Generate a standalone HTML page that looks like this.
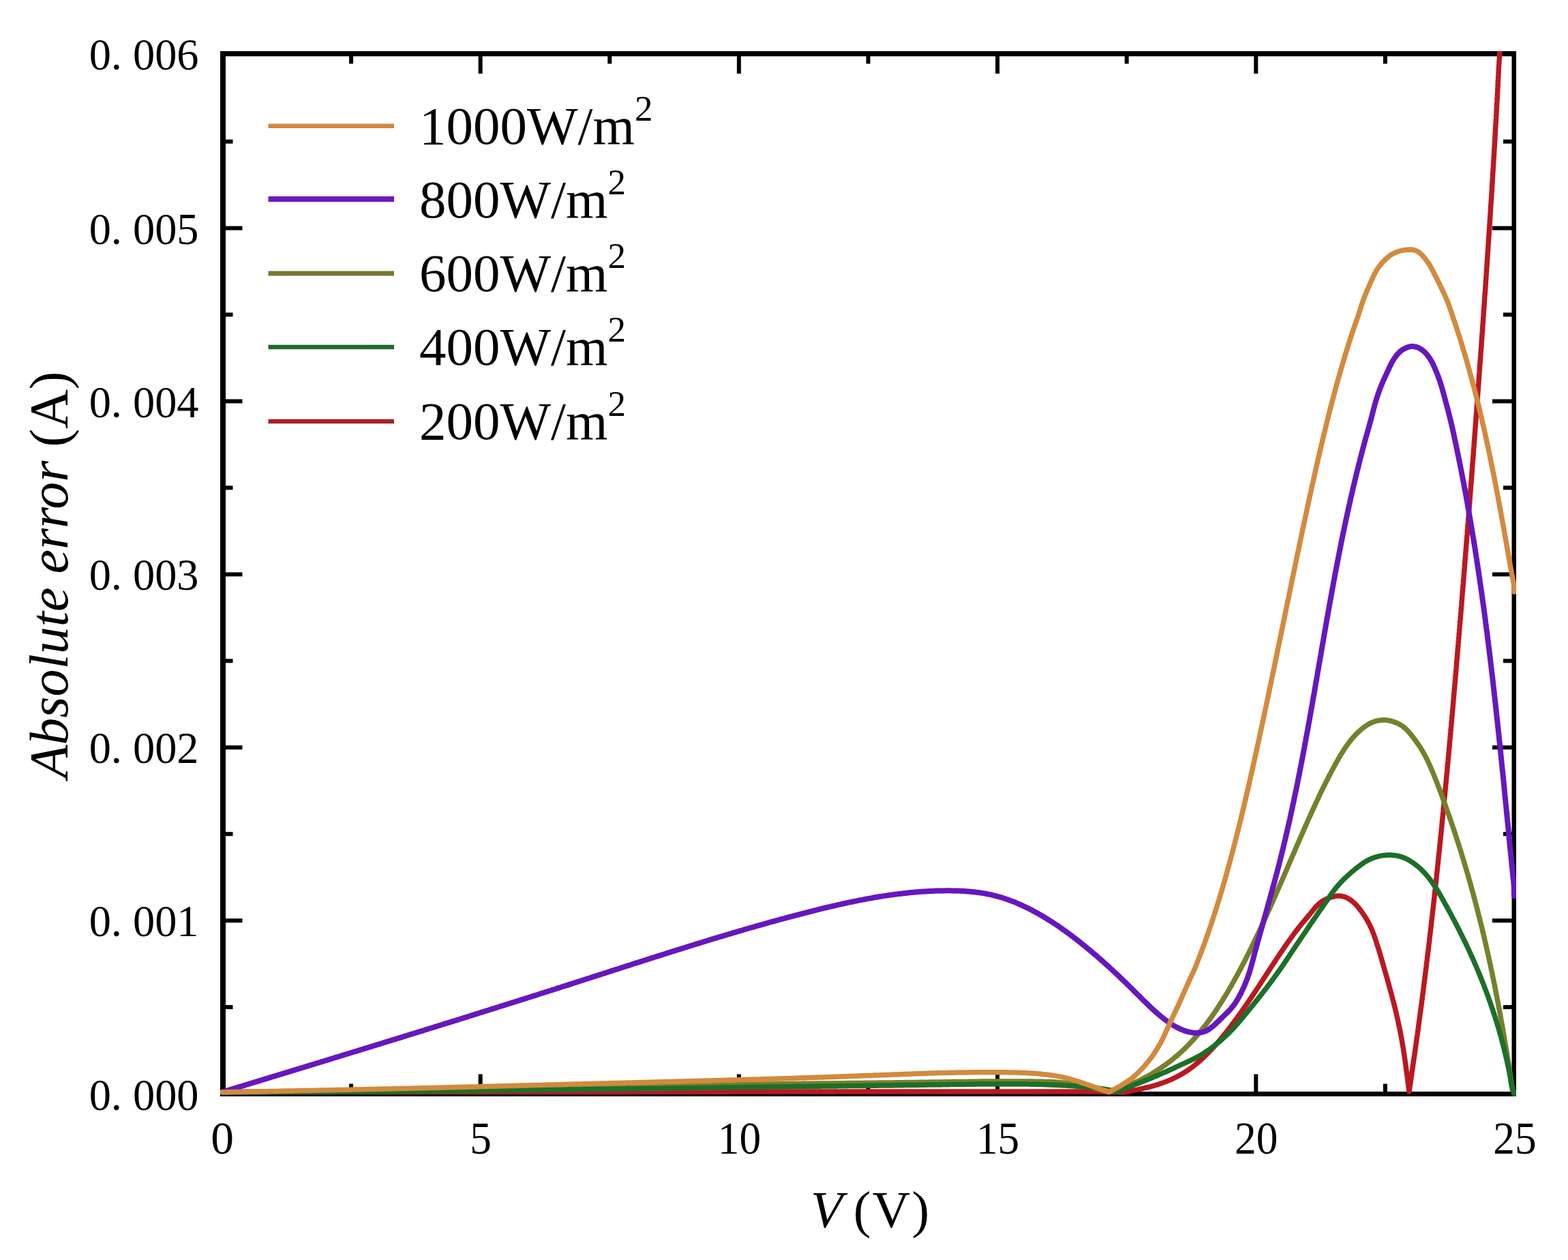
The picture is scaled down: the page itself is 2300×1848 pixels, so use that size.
<!DOCTYPE html>
<html><head><meta charset="utf-8"><title>Absolute error vs V</title>
<style>
html,body{margin:0;padding:0;background:#fff;}
svg{display:block;}
text{font-family:"Liberation Serif","Times New Roman",serif;fill:#000;}
.tk{font-size:66px;}
.xt{font-size:67.5px;}
.lg{font-size:79px;}
.sup{font-size:53px;}
.ax{font-size:77px;}
.ay{font-size:80px;}
</style></head>
<body>
<svg width="2300" height="1848" viewBox="0 0 2300 1848" xmlns="http://www.w3.org/2000/svg">
<rect x="0" y="0" width="2300" height="1848" fill="#fff"/>
<defs><clipPath id="pc"><rect x="323" y="75" width="1901" height="1533"/></clipPath></defs>
<g id="frame" fill="#000">
<rect x="323" y="75" width="8" height="1533"/>
<rect x="323" y="75" width="1901" height="7.5"/>
<rect x="2217.5" y="75" width="6.5" height="1533"/>
<rect x="323" y="1601" width="1901" height="7"/>
<rect x="331.0" y="1474.1" width="10.5" height="6.0"/>
<rect x="2205.0" y="1474.1" width="13.0" height="6.0"/>
<rect x="331.0" y="1347.2" width="24.5" height="6.0"/>
<rect x="2189.0" y="1347.2" width="29.0" height="6.0"/>
<rect x="331.0" y="1220.2" width="10.5" height="6.0"/>
<rect x="2205.0" y="1220.2" width="13.0" height="6.0"/>
<rect x="331.0" y="1093.3" width="24.5" height="6.0"/>
<rect x="2189.0" y="1093.3" width="29.0" height="6.0"/>
<rect x="331.0" y="966.3" width="10.5" height="6.0"/>
<rect x="2205.0" y="966.3" width="13.0" height="6.0"/>
<rect x="331.0" y="839.4" width="24.5" height="6.0"/>
<rect x="2189.0" y="839.4" width="29.0" height="6.0"/>
<rect x="331.0" y="712.4" width="10.5" height="6.0"/>
<rect x="2205.0" y="712.4" width="13.0" height="6.0"/>
<rect x="331.0" y="585.5" width="24.5" height="6.0"/>
<rect x="2189.0" y="585.5" width="29.0" height="6.0"/>
<rect x="331.0" y="458.5" width="10.5" height="6.0"/>
<rect x="2205.0" y="458.5" width="13.0" height="6.0"/>
<rect x="331.0" y="331.6" width="24.5" height="6.0"/>
<rect x="2189.0" y="331.6" width="29.0" height="6.0"/>
<rect x="331.0" y="204.6" width="10.5" height="6.0"/>
<rect x="2205.0" y="204.6" width="13.0" height="6.0"/>
<rect x="512.1" y="82.0" width="6.0" height="11.5"/>
<rect x="512.1" y="1589.6" width="6.0" height="12.0"/>
<rect x="701.7" y="82.0" width="6.0" height="26.0"/>
<rect x="701.7" y="1575.5" width="6.0" height="26.0"/>
<rect x="891.3" y="82.0" width="6.0" height="11.5"/>
<rect x="891.3" y="1589.6" width="6.0" height="12.0"/>
<rect x="1080.9" y="82.0" width="6.0" height="26.0"/>
<rect x="1080.9" y="1575.5" width="6.0" height="26.0"/>
<rect x="1270.5" y="82.0" width="6.0" height="11.5"/>
<rect x="1270.5" y="1589.6" width="6.0" height="12.0"/>
<rect x="1460.1" y="82.0" width="6.0" height="26.0"/>
<rect x="1460.1" y="1575.5" width="6.0" height="26.0"/>
<rect x="1649.7" y="82.0" width="6.0" height="11.5"/>
<rect x="1649.7" y="1589.6" width="6.0" height="12.0"/>
<rect x="1839.3" y="82.0" width="6.0" height="26.0"/>
<rect x="1839.3" y="1575.5" width="6.0" height="26.0"/>
<rect x="2028.9" y="82.0" width="6.0" height="11.5"/>
<rect x="2028.9" y="1589.6" width="6.0" height="12.0"/>
</g>
<g id="curves" clip-path="url(#pc)">
<path d="M326.0,1601.5 329.0,1601.5 332.0,1601.5 335.0,1601.5 338.0,1601.5 341.0,1601.5 344.0,1601.5 347.0,1601.5 350.0,1601.5 353.0,1601.5 356.0,1601.5 359.0,1601.5 362.0,1601.5 365.0,1601.5 368.0,1601.5 371.0,1601.5 374.0,1601.5 377.0,1601.5 380.0,1601.5 383.0,1601.5 386.0,1601.5 389.0,1601.5 392.0,1601.5 395.0,1601.5 398.0,1601.5 401.0,1601.5 404.0,1601.5 407.0,1601.5 410.0,1601.5 413.0,1601.5 416.0,1601.5 419.0,1601.5 422.0,1601.5 425.0,1601.5 428.0,1601.5 431.0,1601.5 434.0,1601.5 437.0,1601.5 440.0,1601.5 443.0,1601.5 446.0,1601.5 449.0,1601.5 452.0,1601.5 455.0,1601.5 458.0,1601.5 461.0,1601.5 464.0,1601.5 467.0,1601.5 470.0,1601.5 473.0,1601.5 476.0,1601.5 479.0,1601.5 482.0,1601.5 485.0,1601.5 488.0,1601.5 491.0,1601.5 494.0,1601.5 497.0,1601.5 500.0,1601.5 503.0,1601.5 506.0,1601.5 509.0,1601.5 512.0,1601.5 515.0,1601.5 518.0,1601.5 521.0,1601.5 524.0,1601.5 527.0,1601.5 530.0,1601.5 533.0,1601.5 536.0,1601.5 539.0,1601.5 542.0,1601.5 545.0,1601.5 548.0,1601.5 551.0,1601.5 554.0,1601.5 557.0,1601.5 560.0,1601.5 563.0,1601.5 566.0,1601.5 569.0,1601.5 572.0,1601.5 575.0,1601.5 578.0,1601.5 581.0,1601.5 584.0,1601.5 587.0,1601.5 590.0,1601.5 593.0,1601.5 596.0,1601.5 599.0,1601.5 602.0,1601.5 605.0,1601.5 608.0,1601.5 611.0,1601.5 614.0,1601.5 617.0,1601.5 620.0,1601.5 623.0,1601.5 626.0,1601.5 629.0,1601.5 632.0,1601.5 635.0,1601.5 638.0,1601.5 641.0,1601.5 644.0,1601.5 647.0,1601.5 650.0,1601.5 653.0,1601.5 656.0,1601.5 659.0,1601.5 662.0,1601.5 665.0,1601.5 668.0,1601.5 671.0,1601.5 674.0,1601.5 677.0,1601.5 680.0,1601.5 683.0,1601.5 686.0,1601.5 689.0,1601.5 692.0,1601.5 695.0,1601.5 698.0,1601.5 701.0,1601.5 704.0,1601.5 707.0,1601.5 710.0,1601.5 713.0,1601.5 716.0,1601.5 719.0,1601.5 722.0,1601.5 725.0,1601.5 728.0,1601.5 731.0,1601.5 734.0,1601.5 737.0,1601.5 740.0,1601.5 743.0,1601.5 746.0,1601.5 749.0,1601.5 752.0,1601.5 755.0,1601.5 758.0,1601.5 761.0,1601.5 764.0,1601.5 767.0,1601.5 770.0,1601.5 773.0,1601.5 776.0,1601.5 779.0,1601.5 782.0,1601.5 785.0,1601.5 788.0,1601.5 791.0,1601.5 794.0,1601.5 797.0,1601.5 800.0,1601.5 803.0,1601.5 806.0,1601.5 809.0,1601.5 812.0,1601.5 815.0,1601.5 818.0,1601.5 821.0,1601.5 824.0,1601.5 827.0,1601.5 830.0,1601.5 833.0,1601.5 836.0,1601.5 839.0,1601.5 842.0,1601.5 845.0,1601.5 848.0,1601.5 851.0,1601.5 854.0,1601.5 857.0,1601.5 860.0,1601.4 863.0,1601.4 866.0,1601.4 869.0,1601.4 872.0,1601.4 875.0,1601.4 878.0,1601.4 881.0,1601.4 884.0,1601.4 887.0,1601.4 890.0,1601.4 893.0,1601.4 896.0,1601.4 899.0,1601.4 902.0,1601.4 905.0,1601.4 908.0,1601.4 911.0,1601.4 914.0,1601.4 917.0,1601.4 920.0,1601.4 923.0,1601.4 926.0,1601.4 929.0,1601.4 932.0,1601.4 935.0,1601.4 938.0,1601.3 941.0,1601.3 944.0,1601.3 947.0,1601.3 950.0,1601.3 953.0,1601.3 956.0,1601.3 959.0,1601.3 962.0,1601.3 965.0,1601.3 968.0,1601.3 971.0,1601.3 974.0,1601.3 977.0,1601.3 980.0,1601.3 983.0,1601.3 986.0,1601.3 989.0,1601.3 992.0,1601.3 995.0,1601.3 998.0,1601.3 1001.0,1601.3 1004.0,1601.2 1007.0,1601.2 1010.0,1601.2 1013.0,1601.2 1016.0,1601.2 1019.0,1601.2 1022.0,1601.2 1025.0,1601.2 1028.0,1601.2 1031.0,1601.2 1034.0,1601.2 1037.0,1601.2 1040.0,1601.2 1043.0,1601.2 1046.0,1601.2 1049.0,1601.2 1052.0,1601.2 1055.0,1601.2 1058.0,1601.2 1061.0,1601.2 1064.0,1601.2 1067.0,1601.2 1070.0,1601.1 1073.0,1601.1 1076.0,1601.1 1079.0,1601.1 1082.0,1601.1 1085.0,1601.1 1088.0,1601.1 1091.0,1601.1 1094.0,1601.1 1097.0,1601.1 1100.0,1601.1 1103.0,1601.1 1106.0,1601.1 1109.0,1601.1 1112.0,1601.1 1115.0,1601.1 1118.0,1601.1 1121.0,1601.1 1124.0,1601.1 1127.0,1601.1 1130.0,1601.1 1133.0,1601.1 1136.0,1601.1 1139.0,1601.1 1142.0,1601.1 1145.0,1601.0 1148.0,1601.0 1151.0,1601.0 1154.0,1601.0 1157.0,1601.0 1160.0,1601.0 1163.0,1601.0 1166.0,1601.0 1169.0,1601.0 1172.0,1601.0 1175.0,1601.0 1178.0,1601.0 1181.0,1601.0 1184.0,1601.0 1187.0,1601.0 1190.0,1601.0 1193.0,1601.0 1196.0,1601.0 1199.0,1601.0 1202.0,1601.0 1205.0,1601.0 1208.0,1601.0 1211.0,1601.0 1214.0,1601.0 1217.0,1601.0 1220.0,1601.0 1223.0,1601.0 1226.0,1601.0 1229.0,1601.0 1232.0,1601.0 1235.0,1601.0 1238.0,1601.0 1241.0,1601.0 1244.0,1601.0 1247.0,1601.0 1250.0,1601.0 1253.0,1601.0 1256.0,1601.0 1259.0,1601.0 1262.0,1601.0 1265.0,1601.0 1268.0,1601.0 1271.0,1601.0 1274.0,1601.0 1277.0,1601.0 1280.0,1601.0 1283.0,1601.0 1286.0,1601.0 1289.0,1601.0 1292.0,1601.0 1295.0,1601.0 1298.0,1601.0 1301.0,1601.0 1304.0,1601.0 1307.0,1601.0 1310.0,1601.0 1313.0,1601.0 1316.0,1601.0 1319.0,1601.0 1322.0,1601.0 1325.0,1601.0 1328.0,1601.0 1331.0,1601.0 1334.0,1601.0 1337.0,1601.0 1340.0,1601.0 1343.0,1601.0 1346.0,1601.0 1349.0,1601.0 1352.0,1601.0 1355.0,1601.0 1358.0,1601.0 1361.0,1601.0 1364.0,1601.0 1367.0,1601.0 1370.0,1601.0 1373.0,1601.0 1376.0,1601.0 1379.0,1601.0 1382.0,1601.0 1385.0,1601.0 1388.0,1601.0 1391.0,1601.0 1394.0,1601.0 1397.0,1601.0 1400.0,1601.0 1403.0,1601.0 1406.0,1601.0 1409.0,1601.0 1412.0,1601.0 1415.0,1601.0 1418.0,1601.0 1421.0,1601.0 1424.0,1601.0 1427.0,1601.0 1430.0,1601.0 1433.0,1601.0 1436.0,1601.0 1439.0,1601.0 1442.0,1601.0 1445.0,1601.0 1448.0,1601.0 1451.0,1601.0 1454.0,1601.0 1457.0,1601.0 1460.0,1601.0 1463.0,1601.0 1466.0,1601.0 1469.0,1601.0 1472.0,1601.0 1475.0,1601.0 1478.0,1601.0 1481.0,1601.0 1484.0,1601.0 1487.0,1601.0 1490.0,1601.0 1493.0,1601.0 1496.0,1601.0 1499.0,1601.0 1502.0,1601.0 1505.0,1601.0 1508.0,1601.0 1511.0,1601.0 1514.0,1601.0 1517.0,1601.0 1520.0,1601.0 1523.0,1601.0 1526.0,1601.0 1529.0,1601.0 1532.0,1601.0 1535.0,1600.9 1538.0,1600.9 1541.0,1600.9 1544.0,1600.9 1547.0,1600.9 1550.0,1600.9 1553.0,1600.9 1556.0,1600.9 1559.0,1600.9 1562.0,1600.9 1565.0,1600.9 1568.0,1600.9 1571.0,1600.9 1574.0,1600.9 1577.0,1600.9 1580.0,1600.9 1583.0,1600.9 1586.0,1600.9 1589.0,1600.9 1592.0,1600.9 1595.0,1601.0 1598.0,1601.0 1601.0,1601.0 1604.0,1601.0 1607.0,1601.1 1610.0,1601.1 1613.0,1601.2 1616.0,1601.2 1619.0,1601.3 1622.0,1601.4 1625.0,1601.4 1628.0,1601.5 1631.0,1601.6 1634.0,1601.6 1637.0,1601.7 1640.0,1601.8 1643.0,1601.8 1646.0,1601.9 1649.0,1602.0 1650.0,1602.0 L1650.0,1602.0 1652.9,1601.4 1655.9,1600.7 1658.8,1600.1 1661.7,1599.5 1664.7,1598.9 1667.6,1598.3 1670.5,1597.6 1673.5,1597.0 1676.4,1596.4 1679.3,1595.7 1682.3,1595.0 1685.2,1594.3 1688.1,1593.6 1691.0,1592.8 1693.9,1592.0 1696.7,1591.1 1699.6,1590.2 1702.4,1589.3 1705.3,1588.3 1708.1,1587.3 1710.9,1586.2 1713.7,1585.1 1716.4,1583.9 1719.2,1582.7 1721.9,1581.4 1724.6,1580.1 1727.3,1578.7 1729.9,1577.3 1732.5,1575.8 1735.1,1574.3 1737.7,1572.8 1740.2,1571.1 1742.7,1569.5 1745.1,1567.7 1747.6,1566.0 1750.0,1564.2 1752.3,1562.3 1754.7,1560.4 1757.0,1558.5 1759.2,1556.6 1761.5,1554.6 1763.7,1552.5 1765.9,1550.5 1768.0,1548.4 1770.1,1546.3 1772.3,1544.1 1774.3,1542.0 1776.4,1539.8 1778.5,1537.6 1780.5,1535.4 1782.5,1533.2 1784.5,1530.9 1786.4,1528.7 1788.4,1526.4 1790.3,1524.1 1792.2,1521.8 1794.1,1519.5 1796.0,1517.1 1797.9,1514.8 1799.8,1512.4 1801.6,1510.1 1803.5,1507.7 1805.3,1505.3 1807.1,1502.9 1808.9,1500.5 1810.7,1498.1 1812.5,1495.7 1814.2,1493.3 1816.0,1490.9 1817.7,1488.4 1819.5,1486.0 1821.2,1483.5 1823.0,1481.1 1824.7,1478.6 1826.4,1476.2 1828.1,1473.7 1829.8,1471.2 1831.5,1468.7 1833.2,1466.2 1834.8,1463.8 1836.5,1461.3 1838.2,1458.8 1839.8,1456.3 1841.5,1453.8 1843.2,1451.3 1844.8,1448.8 1846.5,1446.3 1848.1,1443.8 1849.7,1441.2 1851.4,1438.7 1853.0,1436.2 1854.7,1433.7 1856.3,1431.2 1857.9,1428.7 1859.6,1426.2 1861.2,1423.6 1862.9,1421.1 1864.5,1418.6 1866.1,1416.1 1867.8,1413.6 1869.4,1411.1 1871.1,1408.6 1872.7,1406.1 1874.4,1403.6 1876.1,1401.1 1877.7,1398.6 1879.4,1396.1 1881.1,1393.6 1882.8,1391.2 1884.5,1388.7 1886.2,1386.2 1887.9,1383.8 1889.6,1381.3 1891.4,1378.9 1893.1,1376.4 1894.9,1374.0 1896.6,1371.6 1898.4,1369.1 1900.2,1366.7 1902.0,1364.3 1903.9,1362.0 1905.7,1359.6 1907.6,1357.2 1909.5,1354.9 1911.4,1352.6 1913.3,1350.3 1915.2,1348.0 1917.2,1345.7 1919.1,1343.5 1921.1,1341.2 1922.9,1338.8 1924.8,1336.5 1926.7,1334.2 1928.6,1331.8 1930.6,1329.6 1932.6,1327.4 1934.8,1325.4 1937.1,1323.5 1939.6,1321.8 1942.2,1320.3 1944.8,1318.9 1947.6,1317.7 1950.4,1316.7 1953.2,1315.7 1956.1,1315.0 1959.0,1314.4 1962.0,1314.0 1965.0,1314.0 1967.9,1314.3 1970.8,1314.9 1973.6,1315.9 1976.3,1317.2 1978.9,1318.6 1981.4,1320.3 1983.8,1322.1 1986.0,1324.0 1988.2,1326.1 1990.2,1328.3 1992.2,1330.6 1994.0,1332.9 1995.9,1335.3 1997.6,1337.7 1999.4,1340.2 2001.0,1342.7 2002.7,1345.2 2004.2,1347.7 2005.8,1350.3 2007.2,1352.9 2008.6,1355.6 2009.9,1358.3 2011.2,1361.0 2012.4,1363.8 2013.5,1366.5 2014.6,1369.3 2015.6,1372.1 2016.6,1375.0 2017.6,1377.8 2018.5,1380.7 2019.4,1383.5 2020.3,1386.4 2021.2,1389.2 2022.2,1392.1 2023.1,1395.0 2023.9,1397.8 2024.8,1400.7 2025.6,1403.6 2026.5,1406.5 2027.3,1409.4 2028.1,1412.2 2028.9,1415.1 2029.8,1418.0 2030.6,1420.9 2031.4,1423.8 2032.2,1426.7 2033.1,1429.6 2033.9,1432.4 2034.7,1435.3 2035.5,1438.2 2036.3,1441.1 2037.1,1444.0 2037.9,1446.9 2038.7,1449.8 2039.5,1452.7 2040.3,1455.6 2041.1,1458.5 2041.8,1461.4 2042.6,1464.3 2043.3,1467.2 2044.1,1470.1 2044.8,1473.0 2045.6,1475.9 2046.3,1478.8 2047.0,1481.7 2047.7,1484.6 2048.4,1487.6 2049.1,1490.5 2049.7,1493.4 2050.4,1496.3 2051.0,1499.3 2051.6,1502.2 2052.3,1505.1 2052.9,1508.1 2053.5,1511.0 2054.1,1514.0 2054.6,1516.9 2055.2,1519.9 2055.7,1522.8 2056.3,1525.8 2056.8,1528.7 2057.3,1531.7 2057.8,1534.6 2058.3,1537.6 2058.8,1540.6 2059.2,1543.5 2059.7,1546.5 2060.1,1549.5 2060.5,1552.4 2061.0,1555.4 2061.4,1558.4 2061.8,1561.3 2062.2,1564.3 2062.6,1567.3 2063.0,1570.3 2063.4,1573.2 2063.8,1576.2 2064.2,1579.2 2064.6,1582.2 2065.0,1585.1 2065.3,1588.1 2065.7,1591.1 2066.1,1594.1 2066.5,1597.0 2066.9,1600.0 2067.0,1601.0 L2067.0,1601.0 2067.4,1598.0 2067.9,1595.1 2068.3,1592.1 2068.7,1589.1 2069.2,1586.2 2069.6,1583.2 2070.0,1580.2 2070.5,1577.2 2070.9,1574.3 2071.3,1571.3 2071.7,1568.3 2072.2,1565.4 2072.6,1562.4 2073.0,1559.4 2073.5,1556.5 2073.9,1553.5 2074.3,1550.5 2074.8,1547.6 2075.2,1544.6 2075.6,1541.6 2076.0,1538.6 2076.5,1535.7 2076.9,1532.7 2077.3,1529.7 2077.7,1526.8 2078.1,1523.8 2078.5,1520.8 2079.0,1517.8 2079.4,1514.9 2079.8,1511.9 2080.2,1508.9 2080.6,1506.0 2081.0,1503.0 2081.4,1500.0 2081.8,1497.0 2082.2,1494.1 2082.6,1491.1 2083.0,1488.1 2083.4,1485.1 2083.8,1482.2 2084.2,1479.2 2084.6,1476.2 2085.0,1473.2 2085.4,1470.3 2085.8,1467.3 2086.2,1464.3 2086.5,1461.3 2086.9,1458.4 2087.3,1455.4 2087.7,1452.4 2088.1,1449.4 2088.5,1446.5 2088.8,1443.5 2089.2,1440.5 2089.6,1437.5 2090.0,1434.6 2090.3,1431.6 2090.7,1428.6 2091.1,1425.6 2091.4,1422.6 2091.8,1419.7 2092.2,1416.7 2092.5,1413.7 2092.9,1410.7 2093.3,1407.8 2093.6,1404.8 2094.0,1401.8 2094.4,1398.8 2094.7,1395.8 2095.1,1392.9 2095.4,1389.9 2095.8,1386.9 2096.1,1383.9 2096.5,1380.9 2096.8,1378.0 2097.2,1375.0 2097.5,1372.0 2097.9,1369.0 2098.2,1366.0 2098.6,1363.1 2098.9,1360.1 2099.3,1357.1 2099.6,1354.1 2099.9,1351.1 2100.3,1348.2 2100.6,1345.2 2101.0,1342.2 2101.3,1339.2 2101.6,1336.2 2102.0,1333.2 2102.3,1330.3 2102.6,1327.3 2103.0,1324.3 2103.3,1321.3 2103.6,1318.3 2104.0,1315.4 2104.3,1312.4 2104.6,1309.4 2104.9,1306.4 2105.3,1303.4 2105.6,1300.4 2105.9,1297.5 2106.2,1294.5 2106.6,1291.5 2106.9,1288.5 2107.2,1285.5 2107.5,1282.5 2107.8,1279.6 2108.1,1276.6 2108.5,1273.6 2108.8,1270.6 2109.1,1267.6 2109.4,1264.6 2109.7,1261.7 2110.0,1258.7 2110.3,1255.7 2110.6,1252.7 2111.0,1249.7 2111.3,1246.7 2111.6,1243.7 2111.9,1240.8 2112.2,1237.8 2112.5,1234.8 2112.8,1231.8 2113.1,1228.8 2113.4,1225.8 2113.7,1222.9 2114.0,1219.9 2114.3,1216.9 2114.6,1213.9 2114.9,1210.9 2115.2,1207.9 2115.5,1204.9 2115.8,1202.0 2116.1,1199.0 2116.4,1196.0 2116.7,1193.0 2117.0,1190.0 2117.2,1187.0 2117.5,1184.0 2117.8,1181.1 2118.1,1178.1 2118.4,1175.1 2118.7,1172.1 2119.0,1169.1 2119.3,1166.1 2119.6,1163.1 2119.8,1160.1 2120.1,1157.2 2120.4,1154.2 2120.7,1151.2 2121.0,1148.2 2121.3,1145.2 2121.5,1142.2 2121.8,1139.2 2122.1,1136.2 2122.4,1133.3 2122.7,1130.3 2122.9,1127.3 2123.2,1124.3 2123.5,1121.3 2123.8,1118.3 2124.1,1115.3 2124.3,1112.3 2124.6,1109.4 2124.9,1106.4 2125.2,1103.4 2125.4,1100.4 2125.7,1097.4 2126.0,1094.4 2126.2,1091.4 2126.5,1088.4 2126.8,1085.5 2127.1,1082.5 2127.3,1079.5 2127.6,1076.5 2127.9,1073.5 2128.1,1070.5 2128.4,1067.5 2128.7,1064.5 2128.9,1061.5 2129.2,1058.6 2129.5,1055.6 2129.7,1052.6 2130.0,1049.6 2130.3,1046.6 2130.5,1043.6 2130.8,1040.6 2131.1,1037.6 2131.3,1034.6 2131.6,1031.7 2131.8,1028.7 2132.1,1025.7 2132.4,1022.7 2132.6,1019.7 2132.9,1016.7 2133.1,1013.7 2133.4,1010.7 2133.7,1007.7 2133.9,1004.8 2134.2,1001.8 2134.4,998.8 2134.7,995.8 2134.9,992.8 2135.2,989.8 2135.5,986.8 2135.7,983.8 2136.0,980.8 2136.2,977.9 2136.5,974.9 2136.7,971.9 2137.0,968.9 2137.2,965.9 2137.5,962.9 2137.7,959.9 2138.0,956.9 2138.2,953.9 2138.5,950.9 2138.7,948.0 2139.0,945.0 2139.2,942.0 2139.5,939.0 2139.7,936.0 2140.0,933.0 2140.2,930.0 2140.5,927.0 2140.7,924.0 2141.0,921.0 2141.2,918.1 2141.5,915.1 2141.7,912.1 2142.0,909.1 2142.2,906.1 2142.5,903.1 2142.7,900.1 2143.0,897.1 2143.2,894.1 2143.4,891.1 2143.7,888.1 2143.9,885.2 2144.2,882.2 2144.4,879.2 2144.7,876.2 2144.9,873.2 2145.1,870.2 2145.4,867.2 2145.6,864.2 2145.9,861.2 2146.1,858.2 2146.4,855.3 2146.6,852.3 2146.8,849.3 2147.1,846.3 2147.3,843.3 2147.6,840.3 2147.8,837.3 2148.0,834.3 2148.3,831.3 2148.5,828.3 2148.7,825.3 2149.0,822.4 2149.2,819.4 2149.5,816.4 2149.7,813.4 2149.9,810.4 2150.2,807.4 2150.4,804.4 2150.6,801.4 2150.9,798.4 2151.1,795.4 2151.4,792.4 2151.6,789.4 2151.8,786.5 2152.1,783.5 2152.3,780.5 2152.5,777.5 2152.8,774.5 2153.0,771.5 2153.2,768.5 2153.5,765.5 2153.7,762.5 2153.9,759.5 2154.2,756.5 2154.4,753.6 2154.6,750.6 2154.9,747.6 2155.1,744.6 2155.3,741.6 2155.6,738.6 2155.8,735.6 2156.0,732.6 2156.3,729.6 2156.5,726.6 2156.7,723.6 2156.9,720.6 2157.2,717.7 2157.4,714.7 2157.6,711.7 2157.9,708.7 2158.1,705.7 2158.3,702.7 2158.6,699.7 2158.8,696.7 2159.0,693.7 2159.2,690.7 2159.5,687.7 2159.7,684.7 2159.9,681.8 2160.1,678.8 2160.4,675.8 2160.6,672.8 2160.8,669.8 2161.1,666.8 2161.3,663.8 2161.5,660.8 2161.7,657.8 2162.0,654.8 2162.2,651.8 2162.4,648.8 2162.6,645.9 2162.9,642.9 2163.1,639.9 2163.3,636.9 2163.5,633.9 2163.8,630.9 2164.0,627.9 2164.2,624.9 2164.4,621.9 2164.7,618.9 2164.9,615.9 2165.1,612.9 2165.3,609.9 2165.5,607.0 2165.8,604.0 2166.0,601.0 2166.2,598.0 2166.4,595.0 2166.7,592.0 2166.9,589.0 2167.1,586.0 2167.3,583.0 2167.5,580.0 2167.8,577.0 2168.0,574.0 2168.2,571.0 2168.4,568.1 2168.6,565.1 2168.9,562.1 2169.1,559.1 2169.3,556.1 2169.5,553.1 2169.7,550.1 2170.0,547.1 2170.2,544.1 2170.4,541.1 2170.6,538.1 2170.8,535.1 2171.0,532.1 2171.3,529.2 2171.5,526.2 2171.7,523.2 2171.9,520.2 2172.1,517.2 2172.3,514.2 2172.6,511.2 2172.8,508.2 2173.0,505.2 2173.2,502.2 2173.4,499.2 2173.6,496.2 2173.8,493.2 2174.0,490.2 2174.3,487.3 2174.5,484.3 2174.7,481.3 2174.9,478.3 2175.1,475.3 2175.3,472.3 2175.5,469.3 2175.7,466.3 2176.0,463.3 2176.2,460.3 2176.4,457.3 2176.6,454.3 2176.8,451.3 2177.0,448.3 2177.2,445.4 2177.4,442.4 2177.6,439.4 2177.8,436.4 2178.0,433.4 2178.3,430.4 2178.5,427.4 2178.7,424.4 2178.9,421.4 2179.1,418.4 2179.3,415.4 2179.5,412.4 2179.7,409.4 2179.9,406.4 2180.1,403.4 2180.3,400.5 2180.5,397.5 2180.7,394.5 2180.9,391.5 2181.1,388.5 2181.3,385.5 2181.5,382.5 2181.7,379.5 2181.9,376.5 2182.1,373.5 2182.3,370.5 2182.5,367.5 2182.7,364.5 2182.9,361.5 2183.1,358.5 2183.3,355.5 2183.5,352.6 2183.7,349.6 2183.9,346.6 2184.1,343.6 2184.3,340.6 2184.5,337.6 2184.7,334.6 2184.9,331.6 2185.1,328.6 2185.3,325.6 2185.5,322.6 2185.7,319.6 2185.9,316.6 2186.1,313.6 2186.3,310.6 2186.5,307.6 2186.6,304.6 2186.8,301.7 2187.0,298.7 2187.2,295.7 2187.4,292.7 2187.6,289.7 2187.8,286.7 2188.0,283.7 2188.2,280.7 2188.4,277.7 2188.5,274.7 2188.7,271.7 2188.9,268.7 2189.1,265.7 2189.3,262.7 2189.5,259.7 2189.6,256.7 2189.8,253.7 2190.0,250.7 2190.2,247.7 2190.4,244.8 2190.6,241.8 2190.7,238.8 2190.9,235.8 2191.1,232.8 2191.3,229.8 2191.5,226.8 2191.6,223.8 2191.8,220.8 2192.0,217.8 2192.2,214.8 2192.3,211.8 2192.5,208.8 2192.7,205.8 2192.9,202.8 2193.0,199.8 2193.2,196.8 2193.4,193.8 2193.5,190.8 2193.7,187.8 2193.9,184.8 2194.1,181.8 2194.2,178.9 2194.4,175.9 2194.6,172.9 2194.7,169.9 2194.9,166.9 2195.0,163.9 2195.2,160.9 2195.4,157.9 2195.5,154.9 2195.7,151.9 2195.9,148.9 2196.0,145.9 2196.2,142.9 2196.3,139.9 2196.5,136.9 2196.7,133.9 2196.8,130.9 2197.0,127.9 2197.1,124.9 2197.3,121.9 2197.4,118.9 2197.6,115.9 2197.7,112.9 2197.9,109.9 2198.0,106.9 2198.2,103.9 2198.3,101.0 2198.5,98.0 2198.7,95.0 2198.9,92.0 2199.1,89.0 2199.3,86.0 2199.5,83.0 2199.7,80.0 2199.9,77.0 2200.0,75.0" fill="none" stroke="#BA1820" stroke-width="7.5" stroke-linejoin="round" stroke-linecap="round"/>
<path d="M326.0,1601.5 329.0,1601.5 332.0,1601.5 335.0,1601.5 338.0,1601.5 341.0,1601.5 344.0,1601.5 347.0,1601.4 350.0,1601.4 353.0,1601.4 356.0,1601.4 359.0,1601.4 362.0,1601.4 365.0,1601.4 368.0,1601.4 371.0,1601.4 374.0,1601.4 377.0,1601.4 380.0,1601.4 383.0,1601.4 386.0,1601.4 389.0,1601.4 392.0,1601.4 395.0,1601.4 398.0,1601.4 401.0,1601.3 404.0,1601.3 407.0,1601.3 410.0,1601.3 413.0,1601.3 416.0,1601.3 419.0,1601.3 422.0,1601.3 425.0,1601.3 428.0,1601.3 431.0,1601.3 434.0,1601.3 437.1,1601.3 440.1,1601.3 443.1,1601.3 446.1,1601.2 449.1,1601.2 452.1,1601.2 455.1,1601.2 458.1,1601.2 461.1,1601.2 464.1,1601.2 467.1,1601.2 470.1,1601.2 473.1,1601.1 476.1,1601.1 479.1,1601.1 482.1,1601.1 485.1,1601.1 488.1,1601.1 491.1,1601.1 494.1,1601.0 497.1,1601.0 500.1,1601.0 503.1,1601.0 506.1,1601.0 509.1,1600.9 512.1,1600.9 515.1,1600.9 518.1,1600.9 521.1,1600.9 524.1,1600.8 527.1,1600.8 530.1,1600.8 533.1,1600.8 536.1,1600.7 539.1,1600.7 542.1,1600.7 545.1,1600.7 548.1,1600.6 551.1,1600.6 554.1,1600.6 557.1,1600.6 560.1,1600.5 563.1,1600.5 566.1,1600.5 569.1,1600.4 572.1,1600.4 575.1,1600.4 578.1,1600.3 581.1,1600.3 584.1,1600.3 587.1,1600.3 590.1,1600.2 593.1,1600.2 596.1,1600.2 599.1,1600.1 602.1,1600.1 605.1,1600.1 608.1,1600.0 611.1,1600.0 614.1,1600.0 617.1,1599.9 620.1,1599.9 623.1,1599.8 626.1,1599.8 629.1,1599.8 632.1,1599.7 635.1,1599.7 638.1,1599.7 641.1,1599.6 644.1,1599.6 647.1,1599.5 650.1,1599.5 653.1,1599.5 656.1,1599.4 659.1,1599.4 662.1,1599.3 665.1,1599.3 668.1,1599.2 671.1,1599.2 674.1,1599.2 677.1,1599.1 680.1,1599.1 683.1,1599.0 686.2,1599.0 689.2,1598.9 692.2,1598.9 695.2,1598.8 698.2,1598.8 701.2,1598.7 704.2,1598.7 707.2,1598.6 710.2,1598.6 713.2,1598.5 716.2,1598.5 719.2,1598.4 722.2,1598.4 725.2,1598.3 728.2,1598.3 731.2,1598.2 734.2,1598.2 737.2,1598.1 740.2,1598.1 743.2,1598.0 746.2,1598.0 749.2,1597.9 752.2,1597.9 755.2,1597.8 758.2,1597.8 761.2,1597.7 764.2,1597.7 767.2,1597.6 770.2,1597.5 773.2,1597.5 776.2,1597.4 779.2,1597.4 782.2,1597.3 785.2,1597.3 788.2,1597.2 791.2,1597.2 794.2,1597.1 797.2,1597.1 800.2,1597.0 803.2,1596.9 806.2,1596.9 809.2,1596.8 812.2,1596.8 815.2,1596.7 818.2,1596.7 821.2,1596.6 824.2,1596.6 827.2,1596.5 830.2,1596.4 833.2,1596.4 836.2,1596.3 839.2,1596.3 842.2,1596.2 845.2,1596.2 848.2,1596.1 851.2,1596.0 854.2,1596.0 857.2,1595.9 860.2,1595.9 863.2,1595.8 866.2,1595.8 869.2,1595.7 872.2,1595.6 875.2,1595.6 878.2,1595.5 881.2,1595.5 884.2,1595.4 887.2,1595.3 890.2,1595.3 893.2,1595.2 896.2,1595.2 899.2,1595.1 902.2,1595.0 905.2,1595.0 908.2,1594.9 911.2,1594.9 914.2,1594.8 917.2,1594.7 920.2,1594.7 923.2,1594.6 926.2,1594.6 929.2,1594.5 932.2,1594.4 935.2,1594.4 938.2,1594.3 941.2,1594.3 944.2,1594.2 947.2,1594.1 950.2,1594.1 953.2,1594.0 956.2,1593.9 959.2,1593.9 962.2,1593.8 965.2,1593.8 968.2,1593.7 971.2,1593.6 974.2,1593.6 977.2,1593.5 980.2,1593.4 983.2,1593.4 986.2,1593.3 989.2,1593.2 992.2,1593.2 995.2,1593.1 998.2,1593.0 1001.2,1593.0 1004.2,1592.9 1007.2,1592.8 1010.2,1592.8 1013.2,1592.7 1016.2,1592.6 1019.2,1592.5 1022.2,1592.5 1025.2,1592.4 1028.2,1592.3 1031.2,1592.2 1034.2,1592.1 1037.2,1592.1 1040.2,1592.0 1043.2,1591.9 1046.2,1591.8 1049.2,1591.7 1052.2,1591.6 1055.2,1591.6 1058.2,1591.5 1061.2,1591.4 1064.2,1591.3 1067.2,1591.2 1070.2,1591.2 1073.2,1591.1 1076.2,1591.0 1079.2,1590.9 1082.2,1590.9 1085.2,1590.8 1088.2,1590.7 1091.2,1590.7 1094.2,1590.6 1097.2,1590.6 1100.2,1590.5 1103.3,1590.4 1106.3,1590.4 1109.3,1590.3 1112.3,1590.3 1115.3,1590.2 1118.3,1590.2 1121.3,1590.1 1124.3,1590.1 1127.3,1590.0 1130.3,1590.0 1133.3,1589.9 1136.3,1589.9 1139.3,1589.9 1142.3,1589.8 1145.3,1589.8 1148.3,1589.7 1151.3,1589.7 1154.3,1589.7 1157.3,1589.6 1160.3,1589.6 1163.3,1589.5 1166.3,1589.5 1169.3,1589.5 1172.3,1589.4 1175.3,1589.4 1178.3,1589.3 1181.3,1589.3 1184.3,1589.3 1187.3,1589.2 1190.3,1589.2 1193.3,1589.2 1196.3,1589.1 1199.3,1589.1 1202.3,1589.1 1205.3,1589.0 1208.3,1589.0 1211.3,1589.0 1214.3,1588.9 1217.3,1588.9 1220.3,1588.9 1223.3,1588.8 1226.3,1588.8 1229.3,1588.8 1232.3,1588.7 1235.3,1588.7 1238.3,1588.7 1241.3,1588.6 1244.3,1588.6 1247.3,1588.6 1250.3,1588.5 1253.3,1588.5 1256.3,1588.5 1259.3,1588.4 1262.3,1588.4 1265.3,1588.4 1268.3,1588.3 1271.3,1588.3 1274.3,1588.3 1277.3,1588.3 1280.3,1588.2 1283.3,1588.2 1286.3,1588.2 1289.3,1588.1 1292.3,1588.1 1295.3,1588.1 1298.3,1588.0 1301.3,1588.0 1304.3,1587.9 1307.3,1587.9 1310.3,1587.9 1313.3,1587.8 1316.3,1587.8 1319.3,1587.8 1322.3,1587.7 1325.3,1587.7 1328.3,1587.6 1331.3,1587.6 1334.3,1587.6 1337.3,1587.5 1340.3,1587.5 1343.3,1587.4 1346.3,1587.4 1349.3,1587.3 1352.3,1587.3 1355.3,1587.3 1358.3,1587.2 1361.3,1587.2 1364.3,1587.1 1367.3,1587.1 1370.3,1587.0 1373.3,1587.0 1376.4,1586.9 1379.4,1586.9 1382.4,1586.9 1385.4,1586.8 1388.4,1586.8 1391.4,1586.7 1394.4,1586.7 1397.4,1586.6 1400.4,1586.6 1403.4,1586.6 1406.4,1586.5 1409.4,1586.5 1412.4,1586.4 1415.4,1586.4 1418.4,1586.4 1421.4,1586.3 1424.4,1586.3 1427.4,1586.3 1430.4,1586.2 1433.4,1586.2 1436.4,1586.2 1439.4,1586.1 1442.4,1586.1 1445.4,1586.1 1448.4,1586.1 1451.4,1586.0 1454.4,1586.0 1457.4,1586.0 1460.4,1586.0 1463.4,1585.9 1466.4,1585.9 1469.4,1585.9 1472.4,1585.9 1475.4,1585.9 1478.4,1585.9 1481.4,1585.9 1484.4,1585.9 1487.4,1585.9 1490.4,1585.9 1493.4,1585.9 1496.4,1586.0 1499.4,1586.0 1502.4,1586.0 1505.4,1586.1 1508.4,1586.1 1511.4,1586.1 1514.4,1586.1 1517.4,1586.2 1520.4,1586.2 1523.4,1586.3 1526.4,1586.3 1529.4,1586.3 1532.4,1586.4 1535.4,1586.5 1538.4,1586.6 1541.4,1586.7 1544.4,1586.8 1547.4,1587.0 1550.4,1587.2 1553.4,1587.4 1556.4,1587.7 1559.4,1588.0 1562.4,1588.3 1565.3,1588.7 1568.3,1589.1 1571.3,1589.5 1574.2,1590.0 1577.2,1590.5 1580.2,1591.0 1583.1,1591.6 1586.0,1592.1 1589.0,1592.7 1591.9,1593.3 1594.9,1593.9 1597.8,1594.5 1600.7,1595.2 1603.7,1595.8 1606.6,1596.5 1609.5,1597.2 1612.4,1597.9 1615.4,1598.6 1618.3,1599.3 1621.2,1600.1 1624.1,1600.8 1627.0,1601.5 L1627.0,1601.5 1629.9,1600.6 1632.7,1599.7 1635.6,1598.8 1638.5,1597.9 1641.3,1597.0 1644.2,1596.1 1647.0,1595.1 1649.8,1594.0 1652.6,1592.9 1655.4,1591.8 1658.1,1590.6 1660.9,1589.4 1663.6,1588.2 1666.4,1586.9 1669.1,1585.7 1671.8,1584.4 1674.5,1583.0 1677.1,1581.7 1679.8,1580.3 1682.5,1578.9 1685.1,1577.4 1687.7,1575.9 1690.2,1574.4 1692.8,1572.8 1695.3,1571.2 1697.9,1569.6 1700.4,1567.9 1702.9,1566.3 1705.3,1564.6 1707.8,1562.8 1710.3,1561.1 1712.7,1559.3 1715.1,1557.5 1717.5,1555.7 1719.8,1553.8 1722.1,1551.9 1724.4,1550.0 1726.7,1548.1 1729.0,1546.1 1731.2,1544.1 1733.4,1542.1 1735.6,1540.0 1737.8,1538.0 1739.9,1535.9 1742.1,1533.7 1744.2,1531.6 1746.2,1529.4 1748.3,1527.2 1750.3,1525.0 1752.3,1522.8 1754.3,1520.5 1756.3,1518.2 1758.2,1516.0 1760.1,1513.7 1762.0,1511.3 1763.9,1509.0 1765.8,1506.6 1767.6,1504.3 1769.4,1501.9 1771.2,1499.5 1773.0,1497.1 1774.8,1494.6 1776.5,1492.2 1778.3,1489.8 1780.0,1487.3 1781.7,1484.8 1783.4,1482.3 1785.0,1479.8 1786.7,1477.3 1788.3,1474.8 1790.0,1472.3 1791.6,1469.8 1793.2,1467.2 1794.7,1464.7 1796.3,1462.1 1797.9,1459.6 1799.4,1457.0 1801.0,1454.4 1802.5,1451.8 1804.0,1449.2 1805.5,1446.6 1807.0,1444.0 1808.5,1441.4 1810.0,1438.8 1811.4,1436.2 1812.9,1433.6 1814.3,1430.9 1815.7,1428.3 1817.2,1425.7 1818.6,1423.0 1820.0,1420.4 1821.4,1417.7 1822.8,1415.0 1824.2,1412.4 1825.6,1409.7 1826.9,1407.0 1828.3,1404.4 1829.6,1401.7 1831.0,1399.0 1832.3,1396.3 1833.6,1393.6 1835.0,1390.9 1836.3,1388.2 1837.6,1385.5 1838.9,1382.8 1840.2,1380.1 1841.5,1377.4 1842.8,1374.7 1844.1,1372.0 1845.4,1369.3 1846.7,1366.6 1847.9,1363.9 1849.2,1361.1 1850.5,1358.4 1851.7,1355.7 1853.0,1353.0 1854.2,1350.2 1855.5,1347.5 1856.7,1344.8 1858.0,1342.1 1859.2,1339.3 1860.4,1336.6 1861.7,1333.8 1862.9,1331.1 1864.1,1328.4 1865.3,1325.6 1866.6,1322.9 1867.8,1320.1 1869.0,1317.4 1870.2,1314.6 1871.4,1311.9 1872.6,1309.1 1873.8,1306.4 1875.0,1303.6 1876.2,1300.9 1877.4,1298.1 1878.6,1295.4 1879.8,1292.6 1881.0,1289.9 1882.2,1287.1 1883.4,1284.4 1884.6,1281.6 1885.8,1278.9 1887.0,1276.1 1888.2,1273.4 1889.3,1270.6 1890.5,1267.8 1891.7,1265.1 1892.9,1262.3 1894.1,1259.6 1895.3,1256.8 1896.5,1254.1 1897.7,1251.3 1898.9,1248.6 1900.0,1245.8 1901.2,1243.1 1902.4,1240.3 1903.6,1237.5 1904.8,1234.8 1906.0,1232.0 1907.2,1229.3 1908.4,1226.5 1909.6,1223.8 1910.8,1221.0 1912.0,1218.3 1913.2,1215.5 1914.4,1212.8 1915.6,1210.0 1916.9,1207.3 1918.1,1204.6 1919.3,1201.8 1920.5,1199.1 1921.8,1196.3 1923.0,1193.6 1924.2,1190.9 1925.5,1188.1 1926.7,1185.4 1928.0,1182.7 1929.2,1179.9 1930.5,1177.2 1931.7,1174.5 1933.0,1171.8 1934.3,1169.1 1935.6,1166.3 1936.8,1163.6 1938.1,1160.9 1939.5,1158.2 1940.8,1155.5 1942.1,1152.8 1943.5,1150.2 1944.8,1147.5 1946.2,1144.8 1947.6,1142.1 1948.9,1139.5 1950.3,1136.8 1951.7,1134.2 1953.1,1131.5 1954.5,1128.8 1955.9,1126.2 1957.4,1123.6 1958.8,1120.9 1960.2,1118.3 1961.7,1115.7 1963.2,1113.1 1964.7,1110.5 1966.2,1107.9 1967.8,1105.3 1969.4,1102.8 1971.0,1100.3 1972.6,1097.7 1974.3,1095.3 1976.0,1092.8 1977.8,1090.4 1979.6,1087.9 1981.4,1085.6 1983.3,1083.3 1985.3,1081.0 1987.3,1078.8 1989.4,1076.6 1991.5,1074.5 1993.7,1072.5 1995.9,1070.5 1998.3,1068.6 2000.6,1066.7 2003.0,1064.9 2005.5,1063.3 2008.1,1061.8 2010.8,1060.5 2013.5,1059.3 2016.4,1058.2 2019.2,1057.4 2022.1,1056.7 2025.1,1056.2 2028.0,1055.9 2031.0,1056.0 2034.0,1056.2 2036.9,1056.7 2039.9,1057.3 2042.8,1058.1 2045.6,1059.1 2048.4,1060.2 2051.1,1061.4 2053.8,1062.8 2056.3,1064.4 2058.7,1066.1 2061.0,1068.0 2063.2,1070.1 2065.3,1072.2 2067.3,1074.5 2069.2,1076.8 2071.0,1079.2 2072.9,1081.5 2074.7,1083.9 2076.5,1086.3 2078.2,1088.8 2079.9,1091.2 2081.6,1093.7 2083.3,1096.2 2084.8,1098.8 2086.4,1101.3 2087.9,1103.9 2089.4,1106.5 2090.8,1109.2 2092.2,1111.8 2093.5,1114.5 2094.8,1117.2 2096.1,1119.9 2097.3,1122.7 2098.5,1125.4 2099.7,1128.2 2100.9,1131.0 2102.0,1133.7 2103.1,1136.5 2104.3,1139.3 2105.4,1142.1 2106.5,1144.9 2107.6,1147.7 2108.7,1150.5 2109.8,1153.3 2110.9,1156.1 2111.9,1158.9 2113.0,1161.7 2114.0,1164.5 2115.1,1167.3 2116.1,1170.1 2117.1,1172.9 2118.2,1175.8 2119.2,1178.6 2120.2,1181.4 2121.2,1184.2 2122.2,1187.1 2123.2,1189.9 2124.2,1192.7 2125.2,1195.6 2126.2,1198.4 2127.2,1201.2 2128.2,1204.1 2129.1,1206.9 2130.1,1209.7 2131.1,1212.6 2132.0,1215.4 2133.0,1218.3 2133.9,1221.1 2134.9,1224.0 2135.8,1226.8 2136.7,1229.7 2137.6,1232.5 2138.6,1235.4 2139.5,1238.3 2140.4,1241.1 2141.3,1244.0 2142.2,1246.8 2143.1,1249.7 2144.0,1252.6 2144.8,1255.4 2145.7,1258.3 2146.6,1261.2 2147.5,1264.1 2148.3,1266.9 2149.2,1269.8 2150.0,1272.7 2150.9,1275.6 2151.7,1278.4 2152.6,1281.3 2153.4,1284.2 2154.2,1287.1 2155.0,1290.0 2155.9,1292.9 2156.7,1295.8 2157.5,1298.6 2158.3,1301.5 2159.1,1304.4 2159.9,1307.3 2160.7,1310.2 2161.5,1313.1 2162.2,1316.0 2163.0,1318.9 2163.8,1321.8 2164.5,1324.7 2165.3,1327.6 2166.1,1330.5 2166.8,1333.4 2167.6,1336.3 2168.3,1339.3 2169.0,1342.2 2169.8,1345.1 2170.5,1348.0 2171.2,1350.9 2172.0,1353.8 2172.7,1356.7 2173.4,1359.6 2174.1,1362.6 2174.8,1365.5 2175.5,1368.4 2176.2,1371.3 2176.9,1374.2 2177.6,1377.2 2178.2,1380.1 2178.9,1383.0 2179.6,1385.9 2180.3,1388.9 2180.9,1391.8 2181.6,1394.7 2182.2,1397.6 2182.9,1400.6 2183.5,1403.5 2184.2,1406.4 2184.8,1409.4 2185.4,1412.3 2186.1,1415.2 2186.7,1418.2 2187.3,1421.1 2188.0,1424.0 2188.6,1427.0 2189.2,1429.9 2189.8,1432.9 2190.4,1435.8 2191.0,1438.7 2191.6,1441.7 2192.2,1444.6 2192.8,1447.6 2193.4,1450.5 2193.9,1453.4 2194.5,1456.4 2195.1,1459.3 2195.7,1462.3 2196.2,1465.2 2196.8,1468.2 2197.4,1471.1 2197.9,1474.1 2198.5,1477.0 2199.0,1480.0 2199.6,1482.9 2200.1,1485.9 2200.7,1488.8 2201.2,1491.8 2201.7,1494.7 2202.3,1497.7 2202.8,1500.6 2203.3,1503.6 2203.9,1506.6 2204.4,1509.5 2204.9,1512.5 2205.4,1515.4 2205.9,1518.4 2206.4,1521.3 2206.9,1524.3 2207.4,1527.3 2207.9,1530.2 2208.4,1533.2 2208.9,1536.1 2209.4,1539.1 2209.9,1542.1 2210.4,1545.0 2210.9,1548.0 2211.3,1550.9 2211.8,1553.9 2212.3,1556.9 2212.8,1559.8 2213.2,1562.8 2213.7,1565.8 2214.2,1568.7 2214.6,1571.7 2215.0,1574.7 2215.5,1577.6 2215.9,1580.6 2216.3,1583.6 2216.7,1586.6 2217.2,1589.5 2217.8,1592.5 2218.4,1595.4 2219.2,1598.3 2220.1,1601.1 2221.0,1604.0" fill="none" stroke="#76802C" stroke-width="7.5" stroke-linejoin="round" stroke-linecap="round"/>
<path d="M326.0,1601.5 329.0,1601.5 332.0,1601.5 335.0,1601.5 338.0,1601.5 341.0,1601.5 344.0,1601.5 347.0,1601.5 350.0,1601.5 353.0,1601.5 356.0,1601.5 359.0,1601.5 362.0,1601.5 365.0,1601.5 368.0,1601.5 371.0,1601.5 374.0,1601.5 377.0,1601.5 380.0,1601.5 383.0,1601.5 386.0,1601.5 389.0,1601.5 392.0,1601.5 395.0,1601.5 398.0,1601.5 401.0,1601.5 404.0,1601.5 407.0,1601.5 410.0,1601.5 413.0,1601.5 416.0,1601.5 419.0,1601.5 422.0,1601.5 425.0,1601.5 428.0,1601.5 431.0,1601.5 434.1,1601.5 437.1,1601.5 440.1,1601.5 443.1,1601.5 446.1,1601.5 449.1,1601.5 452.1,1601.4 455.1,1601.4 458.1,1601.4 461.1,1601.4 464.1,1601.4 467.1,1601.4 470.1,1601.4 473.1,1601.4 476.1,1601.4 479.1,1601.4 482.1,1601.4 485.1,1601.4 488.1,1601.4 491.1,1601.3 494.1,1601.3 497.1,1601.3 500.1,1601.3 503.1,1601.3 506.1,1601.3 509.1,1601.3 512.1,1601.2 515.1,1601.2 518.1,1601.2 521.1,1601.2 524.1,1601.2 527.1,1601.1 530.1,1601.1 533.1,1601.1 536.1,1601.1 539.1,1601.0 542.1,1601.0 545.1,1601.0 548.1,1601.0 551.1,1601.0 554.1,1600.9 557.1,1600.9 560.1,1600.9 563.1,1600.8 566.1,1600.8 569.1,1600.8 572.1,1600.8 575.1,1600.7 578.1,1600.7 581.1,1600.7 584.1,1600.6 587.1,1600.6 590.1,1600.6 593.1,1600.6 596.1,1600.5 599.1,1600.5 602.1,1600.5 605.1,1600.4 608.1,1600.4 611.1,1600.4 614.1,1600.4 617.1,1600.3 620.1,1600.3 623.1,1600.3 626.1,1600.2 629.1,1600.2 632.1,1600.2 635.1,1600.1 638.1,1600.1 641.1,1600.1 644.1,1600.1 647.1,1600.0 650.1,1600.0 653.1,1600.0 656.1,1599.9 659.2,1599.9 662.2,1599.9 665.2,1599.9 668.2,1599.8 671.2,1599.8 674.2,1599.8 677.2,1599.7 680.2,1599.7 683.2,1599.7 686.2,1599.7 689.2,1599.6 692.2,1599.6 695.2,1599.6 698.2,1599.5 701.2,1599.5 704.2,1599.5 707.2,1599.5 710.2,1599.4 713.2,1599.4 716.2,1599.4 719.2,1599.3 722.2,1599.3 725.2,1599.3 728.2,1599.3 731.2,1599.2 734.2,1599.2 737.2,1599.2 740.2,1599.1 743.2,1599.1 746.2,1599.1 749.2,1599.0 752.2,1599.0 755.2,1599.0 758.2,1599.0 761.2,1598.9 764.2,1598.9 767.2,1598.9 770.2,1598.8 773.2,1598.8 776.2,1598.8 779.2,1598.7 782.2,1598.7 785.2,1598.7 788.2,1598.6 791.2,1598.6 794.2,1598.6 797.2,1598.5 800.2,1598.5 803.2,1598.5 806.2,1598.4 809.2,1598.4 812.2,1598.4 815.2,1598.3 818.2,1598.3 821.2,1598.3 824.2,1598.2 827.2,1598.2 830.2,1598.2 833.2,1598.1 836.2,1598.1 839.2,1598.0 842.2,1598.0 845.2,1598.0 848.2,1597.9 851.2,1597.9 854.2,1597.9 857.2,1597.8 860.2,1597.8 863.2,1597.8 866.2,1597.7 869.2,1597.7 872.2,1597.6 875.2,1597.6 878.2,1597.6 881.2,1597.5 884.2,1597.5 887.2,1597.5 890.2,1597.4 893.2,1597.4 896.2,1597.4 899.2,1597.3 902.3,1597.3 905.3,1597.2 908.3,1597.2 911.3,1597.2 914.3,1597.1 917.3,1597.1 920.3,1597.0 923.3,1597.0 926.3,1597.0 929.3,1596.9 932.3,1596.9 935.3,1596.9 938.3,1596.8 941.3,1596.8 944.3,1596.7 947.3,1596.7 950.3,1596.7 953.3,1596.6 956.3,1596.6 959.3,1596.5 962.3,1596.5 965.3,1596.5 968.3,1596.4 971.3,1596.4 974.3,1596.3 977.3,1596.3 980.3,1596.3 983.3,1596.2 986.3,1596.2 989.3,1596.1 992.3,1596.1 995.3,1596.1 998.3,1596.0 1001.3,1596.0 1004.3,1595.9 1007.3,1595.9 1010.3,1595.9 1013.3,1595.8 1016.3,1595.8 1019.3,1595.7 1022.3,1595.7 1025.3,1595.6 1028.3,1595.6 1031.3,1595.5 1034.3,1595.5 1037.3,1595.4 1040.3,1595.4 1043.3,1595.4 1046.3,1595.3 1049.3,1595.3 1052.3,1595.2 1055.3,1595.2 1058.3,1595.1 1061.3,1595.1 1064.3,1595.0 1067.3,1595.0 1070.3,1594.9 1073.3,1594.9 1076.3,1594.8 1079.3,1594.8 1082.3,1594.8 1085.3,1594.7 1088.3,1594.7 1091.3,1594.6 1094.3,1594.6 1097.3,1594.5 1100.3,1594.5 1103.3,1594.5 1106.3,1594.4 1109.3,1594.4 1112.3,1594.3 1115.3,1594.3 1118.3,1594.3 1121.3,1594.2 1124.3,1594.2 1127.3,1594.1 1130.3,1594.1 1133.3,1594.1 1136.3,1594.0 1139.3,1594.0 1142.3,1593.9 1145.3,1593.9 1148.3,1593.9 1151.3,1593.8 1154.3,1593.8 1157.3,1593.7 1160.3,1593.7 1163.3,1593.7 1166.3,1593.6 1169.4,1593.6 1172.4,1593.5 1175.4,1593.5 1178.4,1593.5 1181.4,1593.4 1184.4,1593.4 1187.4,1593.4 1190.4,1593.3 1193.4,1593.3 1196.4,1593.2 1199.4,1593.2 1202.4,1593.2 1205.4,1593.1 1208.4,1593.1 1211.4,1593.1 1214.4,1593.0 1217.4,1593.0 1220.4,1592.9 1223.4,1592.9 1226.4,1592.9 1229.4,1592.8 1232.4,1592.8 1235.4,1592.8 1238.4,1592.7 1241.4,1592.7 1244.4,1592.6 1247.4,1592.6 1250.4,1592.6 1253.4,1592.5 1256.4,1592.5 1259.4,1592.5 1262.4,1592.4 1265.4,1592.4 1268.4,1592.4 1271.4,1592.3 1274.4,1592.3 1277.4,1592.3 1280.4,1592.2 1283.4,1592.2 1286.4,1592.2 1289.4,1592.1 1292.4,1592.1 1295.4,1592.1 1298.4,1592.0 1301.4,1592.0 1304.4,1591.9 1307.4,1591.9 1310.4,1591.9 1313.4,1591.8 1316.4,1591.8 1319.4,1591.8 1322.4,1591.7 1325.4,1591.7 1328.4,1591.6 1331.4,1591.6 1334.4,1591.5 1337.4,1591.5 1340.4,1591.5 1343.4,1591.4 1346.4,1591.4 1349.4,1591.3 1352.4,1591.3 1355.4,1591.2 1358.4,1591.2 1361.4,1591.1 1364.4,1591.1 1367.4,1591.1 1370.4,1591.0 1373.4,1591.0 1376.4,1590.9 1379.4,1590.9 1382.4,1590.8 1385.4,1590.8 1388.4,1590.7 1391.4,1590.7 1394.4,1590.6 1397.4,1590.6 1400.4,1590.6 1403.4,1590.5 1406.4,1590.5 1409.4,1590.4 1412.4,1590.4 1415.4,1590.4 1418.4,1590.3 1421.4,1590.3 1424.4,1590.2 1427.4,1590.2 1430.5,1590.2 1433.5,1590.1 1436.5,1590.1 1439.5,1590.1 1442.5,1590.1 1445.5,1590.0 1448.5,1590.0 1451.5,1590.0 1454.5,1590.0 1457.5,1589.9 1460.5,1589.9 1463.5,1589.9 1466.5,1589.9 1469.5,1589.9 1472.5,1589.9 1475.5,1589.9 1478.5,1589.9 1481.5,1589.9 1484.5,1589.9 1487.5,1589.9 1490.5,1589.9 1493.5,1589.9 1496.5,1590.0 1499.5,1590.0 1502.5,1590.0 1505.5,1590.1 1508.5,1590.1 1511.5,1590.2 1514.5,1590.2 1517.5,1590.3 1520.5,1590.4 1523.5,1590.5 1526.5,1590.5 1529.5,1590.6 1532.5,1590.7 1535.5,1590.8 1538.5,1590.9 1541.5,1591.1 1544.5,1591.2 1547.5,1591.3 1550.5,1591.4 1553.5,1591.6 1556.5,1591.7 1559.5,1591.9 1562.5,1592.1 1565.5,1592.2 1568.5,1592.4 1571.5,1592.6 1574.5,1592.8 1577.4,1593.0 1580.4,1593.2 1583.4,1593.4 1586.4,1593.7 1589.4,1593.9 1592.4,1594.2 1595.4,1594.5 1598.4,1594.7 1601.4,1595.1 1604.4,1595.4 1607.3,1595.7 1610.3,1596.1 1613.3,1596.4 1616.3,1596.8 1619.2,1597.3 1622.2,1597.7 1625.2,1598.2 1628.1,1598.6 1631.1,1599.1 1634.1,1599.6 1637.0,1600.0 1640.0,1600.5 L1640.0,1600.5 1642.8,1599.4 1645.6,1598.3 1648.4,1597.2 1651.2,1596.1 1654.0,1595.0 1656.8,1593.9 1659.6,1592.8 1662.4,1591.7 1665.1,1590.6 1667.9,1589.5 1670.7,1588.4 1673.5,1587.3 1676.3,1586.2 1679.1,1585.1 1681.9,1584.0 1684.6,1582.9 1687.4,1581.7 1690.2,1580.6 1693.0,1579.4 1695.7,1578.2 1698.5,1577.0 1701.2,1575.8 1704.0,1574.6 1706.7,1573.4 1709.5,1572.2 1712.2,1571.0 1714.9,1569.8 1717.7,1568.5 1720.4,1567.3 1723.1,1566.0 1725.8,1564.7 1728.6,1563.4 1731.3,1562.2 1734.0,1560.9 1736.7,1559.7 1739.5,1558.4 1742.2,1557.2 1744.9,1555.9 1747.6,1554.6 1750.3,1553.3 1753.0,1552.0 1755.7,1550.6 1758.3,1549.2 1760.9,1547.7 1763.5,1546.2 1766.0,1544.6 1768.5,1542.9 1771.0,1541.2 1773.5,1539.5 1775.9,1537.8 1778.3,1536.0 1780.7,1534.2 1783.1,1532.3 1785.4,1530.4 1787.7,1528.5 1790.0,1526.6 1792.3,1524.6 1794.5,1522.6 1796.7,1520.6 1798.9,1518.5 1801.1,1516.5 1803.2,1514.4 1805.3,1512.2 1807.4,1510.1 1809.5,1507.9 1811.5,1505.7 1813.5,1503.4 1815.5,1501.2 1817.4,1498.9 1819.4,1496.6 1821.3,1494.3 1823.2,1492.0 1825.1,1489.7 1827.0,1487.4 1828.9,1485.1 1830.8,1482.7 1832.7,1480.4 1834.6,1478.1 1836.5,1475.7 1838.4,1473.4 1840.3,1471.1 1842.2,1468.7 1844.1,1466.4 1845.9,1464.1 1847.8,1461.7 1849.6,1459.3 1851.5,1457.0 1853.3,1454.6 1855.1,1452.2 1857.0,1449.8 1858.8,1447.5 1860.6,1445.1 1862.4,1442.7 1864.2,1440.3 1866.0,1437.8 1867.8,1435.4 1869.5,1433.0 1871.3,1430.6 1873.1,1428.2 1874.8,1425.7 1876.5,1423.3 1878.3,1420.8 1880.0,1418.3 1881.7,1415.9 1883.4,1413.4 1885.0,1410.9 1886.7,1408.4 1888.4,1405.9 1890.1,1403.4 1891.7,1400.9 1893.4,1398.4 1895.0,1395.9 1896.7,1393.4 1898.4,1390.9 1900.0,1388.4 1901.7,1385.9 1903.4,1383.5 1905.0,1381.0 1906.7,1378.5 1908.4,1376.0 1910.1,1373.5 1911.8,1371.0 1913.5,1368.6 1915.2,1366.1 1916.9,1363.6 1918.5,1361.1 1920.2,1358.6 1921.9,1356.2 1923.6,1353.7 1925.3,1351.2 1927.0,1348.7 1928.7,1346.3 1930.4,1343.8 1932.1,1341.3 1933.8,1338.9 1935.5,1336.4 1937.3,1333.9 1939.0,1331.5 1940.7,1329.0 1942.4,1326.5 1944.1,1324.1 1945.8,1321.6 1947.5,1319.1 1949.2,1316.6 1950.9,1314.1 1952.6,1311.7 1954.3,1309.2 1956.1,1306.8 1957.9,1304.4 1959.8,1302.1 1961.7,1299.8 1963.7,1297.5 1965.7,1295.3 1967.7,1293.1 1969.8,1290.9 1971.9,1288.8 1974.1,1286.7 1976.3,1284.7 1978.5,1282.7 1980.7,1280.7 1983.0,1278.7 1985.3,1276.8 1987.6,1274.9 1990.0,1273.0 1992.3,1271.2 1994.7,1269.4 1997.1,1267.6 1999.6,1265.9 2002.1,1264.2 2004.7,1262.7 2007.3,1261.3 2010.0,1260.0 2012.8,1258.8 2015.6,1257.8 2018.5,1256.9 2021.3,1256.1 2024.3,1255.4 2027.2,1254.9 2030.2,1254.5 2033.2,1254.2 2036.1,1254.0 2039.1,1254.0 2042.1,1254.2 2045.1,1254.4 2048.1,1254.9 2051.0,1255.5 2053.9,1256.2 2056.8,1257.1 2059.6,1258.2 2062.3,1259.4 2065.0,1260.7 2067.6,1262.2 2070.1,1263.8 2072.6,1265.4 2075.1,1267.2 2077.4,1269.0 2079.8,1270.9 2082.1,1272.8 2084.3,1274.8 2086.4,1276.9 2088.5,1279.1 2090.5,1281.3 2092.5,1283.6 2094.4,1285.9 2096.3,1288.2 2098.1,1290.6 2099.9,1293.0 2101.6,1295.5 2103.4,1297.9 2105.1,1300.4 2106.7,1302.9 2108.3,1305.4 2109.9,1308.0 2111.4,1310.6 2112.9,1313.2 2114.3,1315.8 2115.8,1318.4 2117.2,1321.1 2118.7,1323.7 2120.1,1326.3 2121.6,1328.9 2123.1,1331.5 2124.5,1334.2 2126.0,1336.8 2127.4,1339.4 2128.8,1342.1 2130.2,1344.7 2131.6,1347.4 2133.1,1350.0 2134.4,1352.7 2135.8,1355.3 2137.2,1358.0 2138.6,1360.7 2139.9,1363.3 2141.3,1366.0 2142.6,1368.7 2144.0,1371.4 2145.3,1374.1 2146.6,1376.8 2147.9,1379.5 2149.2,1382.2 2150.5,1384.9 2151.8,1387.6 2153.1,1390.3 2154.4,1393.0 2155.6,1395.8 2156.9,1398.5 2158.1,1401.2 2159.3,1404.0 2160.6,1406.7 2161.8,1409.4 2163.0,1412.2 2164.2,1414.9 2165.4,1417.7 2166.5,1420.5 2167.7,1423.2 2168.9,1426.0 2170.0,1428.8 2171.1,1431.5 2172.3,1434.3 2173.4,1437.1 2174.5,1439.9 2175.6,1442.7 2176.7,1445.5 2177.8,1448.3 2178.8,1451.1 2179.9,1453.9 2180.9,1456.7 2182.0,1459.5 2183.0,1462.3 2184.0,1465.2 2185.0,1468.0 2186.0,1470.8 2187.0,1473.7 2188.0,1476.5 2188.9,1479.3 2189.9,1482.2 2190.8,1485.0 2191.7,1487.9 2192.7,1490.7 2193.6,1493.6 2194.5,1496.5 2195.4,1499.3 2196.2,1502.2 2197.1,1505.1 2198.0,1508.0 2198.8,1510.8 2199.6,1513.7 2200.5,1516.6 2201.3,1519.5 2202.1,1522.4 2202.8,1525.3 2203.6,1528.2 2204.4,1531.1 2205.1,1534.0 2205.9,1536.9 2206.6,1539.8 2207.3,1542.7 2208.0,1545.6 2208.7,1548.6 2209.4,1551.5 2210.1,1554.4 2210.7,1557.3 2211.4,1560.3 2212.0,1563.2 2212.6,1566.1 2213.2,1569.1 2213.8,1572.0 2214.4,1575.0 2214.9,1577.9 2215.4,1580.9 2215.9,1583.8 2216.3,1586.8 2216.8,1589.8 2217.3,1592.7 2217.9,1595.6 2218.7,1598.5 2219.8,1601.3 2221.0,1604.0" fill="none" stroke="#1C6F29" stroke-width="7.5" stroke-linejoin="round" stroke-linecap="round"/>
<path d="M326.0,1601.7 328.9,1600.9 331.7,1600.0 334.6,1599.1 337.5,1598.2 340.3,1597.4 343.2,1596.5 346.1,1595.6 349.0,1594.7 351.8,1593.9 354.7,1593.0 357.6,1592.1 360.4,1591.2 363.3,1590.4 366.2,1589.5 369.0,1588.6 371.9,1587.7 374.8,1586.9 377.7,1586.0 380.5,1585.1 383.4,1584.2 386.3,1583.4 389.1,1582.5 392.0,1581.6 394.9,1580.7 397.7,1579.9 400.6,1579.0 403.5,1578.1 406.4,1577.2 409.2,1576.4 412.1,1575.5 415.0,1574.6 417.8,1573.7 420.7,1572.9 423.6,1572.0 426.4,1571.1 429.3,1570.2 432.2,1569.4 435.0,1568.5 437.9,1567.6 440.8,1566.7 443.7,1565.9 446.5,1565.0 449.4,1564.1 452.3,1563.2 455.1,1562.4 458.0,1561.5 460.9,1560.6 463.7,1559.7 466.6,1558.8 469.5,1558.0 472.3,1557.1 475.2,1556.2 478.1,1555.3 481.0,1554.5 483.8,1553.6 486.7,1552.7 489.6,1551.8 492.4,1550.9 495.3,1550.1 498.2,1549.2 501.0,1548.3 503.9,1547.4 506.8,1546.5 509.6,1545.7 512.5,1544.8 515.4,1543.9 518.2,1543.0 521.1,1542.2 524.0,1541.3 526.8,1540.4 529.7,1539.5 532.6,1538.6 535.4,1537.7 538.3,1536.9 541.2,1536.0 544.1,1535.1 546.9,1534.2 549.8,1533.3 552.7,1532.5 555.5,1531.6 558.4,1530.7 561.3,1529.8 564.1,1528.9 567.0,1528.0 569.9,1527.2 572.7,1526.3 575.6,1525.4 578.5,1524.5 581.3,1523.6 584.2,1522.7 587.1,1521.9 589.9,1521.0 592.8,1520.1 595.7,1519.2 598.5,1518.3 601.4,1517.4 604.3,1516.5 607.1,1515.7 610.0,1514.8 612.9,1513.9 615.7,1513.0 618.6,1512.1 621.5,1511.2 624.3,1510.3 627.2,1509.4 630.0,1508.5 632.9,1507.7 635.8,1506.8 638.6,1505.9 641.5,1505.0 644.4,1504.1 647.2,1503.2 650.1,1502.3 653.0,1501.4 655.8,1500.5 658.7,1499.6 661.6,1498.8 664.4,1497.9 667.3,1497.0 670.2,1496.1 673.0,1495.2 675.9,1494.3 678.7,1493.4 681.6,1492.5 684.5,1491.6 687.3,1490.7 690.2,1489.8 693.1,1488.9 695.9,1488.0 698.8,1487.1 701.7,1486.2 704.5,1485.3 707.4,1484.4 710.2,1483.5 713.1,1482.6 716.0,1481.7 718.8,1480.8 721.7,1479.9 724.6,1479.0 727.4,1478.1 730.3,1477.2 733.1,1476.3 736.0,1475.4 738.9,1474.5 741.7,1473.6 744.6,1472.7 747.4,1471.8 750.3,1470.9 753.2,1470.0 756.0,1469.1 758.9,1468.2 761.7,1467.3 764.6,1466.4 767.5,1465.5 770.3,1464.6 773.2,1463.7 776.0,1462.8 778.9,1461.9 781.8,1461.0 784.6,1460.1 787.5,1459.2 790.3,1458.3 793.2,1457.3 796.1,1456.4 798.9,1455.5 801.8,1454.6 804.6,1453.7 807.5,1452.8 810.4,1451.9 813.2,1451.0 816.1,1450.1 818.9,1449.1 821.8,1448.2 824.6,1447.3 827.5,1446.4 830.4,1445.5 833.2,1444.6 836.1,1443.6 838.9,1442.7 841.8,1441.8 844.6,1440.9 847.5,1440.0 850.4,1439.1 853.2,1438.1 856.1,1437.2 858.9,1436.3 861.8,1435.4 864.6,1434.5 867.5,1433.6 870.3,1432.6 873.2,1431.7 876.1,1430.8 878.9,1429.9 881.8,1429.0 884.6,1428.0 887.5,1427.1 890.3,1426.2 893.2,1425.3 896.0,1424.4 898.9,1423.4 901.8,1422.5 904.6,1421.6 907.5,1420.7 910.3,1419.8 913.2,1418.8 916.0,1417.9 918.9,1417.0 921.7,1416.1 924.6,1415.2 927.5,1414.2 930.3,1413.3 933.2,1412.4 936.0,1411.5 938.9,1410.6 941.7,1409.7 944.6,1408.8 947.5,1407.9 950.3,1406.9 953.2,1406.0 956.0,1405.1 958.9,1404.2 961.8,1403.3 964.6,1402.4 967.5,1401.5 970.3,1400.6 973.2,1399.7 976.1,1398.8 978.9,1397.9 981.8,1397.0 984.6,1396.0 987.5,1395.1 990.4,1394.2 993.2,1393.3 996.1,1392.5 998.9,1391.6 1001.8,1390.7 1004.7,1389.8 1007.5,1388.9 1010.4,1388.0 1013.3,1387.1 1016.1,1386.2 1019.0,1385.3 1021.9,1384.4 1024.7,1383.6 1027.6,1382.7 1030.5,1381.8 1033.3,1380.9 1036.2,1380.0 1039.1,1379.2 1041.9,1378.3 1044.8,1377.4 1047.7,1376.5 1050.6,1375.7 1053.4,1374.8 1056.3,1373.9 1059.2,1373.1 1062.1,1372.2 1064.9,1371.4 1067.8,1370.5 1070.7,1369.6 1073.6,1368.8 1076.4,1367.9 1079.3,1367.1 1082.2,1366.2 1085.1,1365.4 1087.9,1364.6 1090.8,1363.7 1093.7,1362.9 1096.6,1362.0 1099.5,1361.2 1102.4,1360.4 1105.2,1359.6 1108.1,1358.7 1111.0,1357.9 1113.9,1357.1 1116.8,1356.3 1119.7,1355.5 1122.6,1354.6 1125.4,1353.8 1128.3,1353.0 1131.2,1352.2 1134.1,1351.4 1137.0,1350.6 1139.9,1349.8 1142.8,1349.0 1145.7,1348.2 1148.6,1347.5 1151.5,1346.7 1154.4,1345.9 1157.3,1345.1 1160.2,1344.3 1163.1,1343.6 1166.0,1342.8 1168.9,1342.0 1171.8,1341.3 1174.7,1340.5 1177.6,1339.8 1180.5,1339.0 1183.4,1338.3 1186.3,1337.5 1189.2,1336.8 1192.1,1336.0 1195.0,1335.3 1197.9,1334.6 1200.8,1333.9 1203.7,1333.1 1206.7,1332.4 1209.6,1331.7 1212.5,1331.0 1215.4,1330.3 1218.3,1329.6 1221.3,1329.0 1224.2,1328.3 1227.1,1327.6 1230.0,1326.9 1233.0,1326.3 1235.9,1325.6 1238.8,1325.0 1241.7,1324.4 1244.7,1323.7 1247.6,1323.1 1250.6,1322.5 1253.5,1321.9 1256.4,1321.3 1259.4,1320.7 1262.3,1320.1 1265.3,1319.6 1268.2,1319.0 1271.2,1318.4 1274.1,1317.9 1277.1,1317.4 1280.0,1316.8 1283.0,1316.3 1285.9,1315.8 1288.9,1315.3 1291.8,1314.8 1294.8,1314.4 1297.8,1313.9 1300.7,1313.5 1303.7,1313.0 1306.7,1312.6 1309.7,1312.2 1312.6,1311.8 1315.6,1311.4 1318.6,1311.0 1321.6,1310.7 1324.5,1310.3 1327.5,1310.0 1330.5,1309.7 1333.5,1309.3 1336.5,1309.0 1339.5,1308.8 1342.4,1308.5 1345.4,1308.2 1348.4,1308.0 1351.4,1307.8 1354.4,1307.6 1357.4,1307.4 1360.4,1307.2 1363.4,1307.0 1366.4,1306.9 1369.4,1306.8 1372.4,1306.6 1375.4,1306.6 1378.4,1306.5 1381.4,1306.4 1384.4,1306.4 1387.4,1306.3 1390.4,1306.3 1393.4,1306.3 1396.4,1306.4 1399.4,1306.4 1402.4,1306.5 1405.4,1306.6 1408.4,1306.7 1411.4,1306.8 1414.4,1307.0 1417.4,1307.2 1420.3,1307.4 1423.3,1307.7 1426.3,1308.0 1429.3,1308.3 1432.3,1308.7 1435.3,1309.0 1438.2,1309.5 1441.2,1309.9 1444.1,1310.4 1447.1,1311.0 1450.0,1311.6 1453.0,1312.2 1455.9,1312.9 1458.8,1313.6 1461.7,1314.3 1464.6,1315.1 1467.5,1315.9 1470.4,1316.8 1473.2,1317.7 1476.1,1318.7 1478.9,1319.6 1481.7,1320.7 1484.5,1321.7 1487.3,1322.8 1490.1,1323.9 1492.9,1325.1 1495.6,1326.3 1498.4,1327.5 1501.1,1328.8 1503.8,1330.1 1506.5,1331.4 1509.2,1332.7 1511.9,1334.1 1514.5,1335.4 1517.2,1336.9 1519.8,1338.3 1522.4,1339.8 1525.0,1341.2 1527.6,1342.7 1530.2,1344.3 1532.8,1345.8 1535.3,1347.4 1537.9,1349.0 1540.4,1350.6 1542.9,1352.2 1545.5,1353.8 1548.0,1355.5 1550.5,1357.1 1552.9,1358.8 1555.4,1360.5 1557.9,1362.2 1560.3,1364.0 1562.7,1365.7 1565.2,1367.5 1567.6,1369.3 1570.0,1371.0 1572.4,1372.8 1574.8,1374.7 1577.2,1376.5 1579.6,1378.3 1581.9,1380.2 1584.3,1382.0 1586.6,1383.9 1589.0,1385.8 1591.3,1387.7 1593.6,1389.6 1595.9,1391.5 1598.2,1393.4 1600.5,1395.3 1602.8,1397.2 1605.1,1399.2 1607.4,1401.1 1609.7,1403.1 1611.9,1405.1 1614.2,1407.0 1616.4,1409.0 1618.7,1411.0 1620.9,1413.0 1623.1,1415.0 1625.4,1417.0 1627.6,1419.1 1629.8,1421.1 1632.0,1423.1 1634.2,1425.2 1636.4,1427.2 1638.6,1429.3 1640.8,1431.3 1642.9,1433.4 1645.1,1435.5 1647.3,1437.6 1649.4,1439.6 1651.6,1441.7 1653.7,1443.8 1655.9,1445.9 1658.0,1448.0 1660.1,1450.1 1662.3,1452.2 1664.4,1454.4 1666.5,1456.5 1668.6,1458.6 1670.8,1460.7 1672.9,1462.8 1675.0,1464.9 1677.1,1467.1 1679.3,1469.2 1681.4,1471.2 1683.6,1473.3 1685.8,1475.4 1687.9,1477.5 1690.1,1479.5 1692.3,1481.5 1694.6,1483.6 1696.8,1485.5 1699.1,1487.5 1701.4,1489.4 1703.7,1491.4 1706.0,1493.2 1708.4,1495.1 1710.8,1496.9 1713.2,1498.6 1715.7,1500.3 1718.2,1502.0 1720.7,1503.6 1723.3,1505.1 1725.9,1506.6 1728.6,1507.9 1731.3,1509.2 1734.1,1510.4 1736.9,1511.5 1739.7,1512.4 1742.6,1513.2 1745.5,1513.9 1748.4,1514.4 1751.4,1514.7 1754.4,1514.9 1757.4,1514.8 1760.4,1514.5 1763.3,1513.9 1766.2,1513.1 1768.9,1512.1 1771.6,1510.7 1774.1,1509.1 1776.5,1507.3 1778.8,1505.5 1781.1,1503.5 1783.3,1501.5 1785.5,1499.4 1787.6,1497.3 1789.8,1495.2 1791.9,1493.1 1794.0,1491.0 1796.2,1488.9 1798.3,1486.8 1800.5,1484.7 1802.6,1482.6 1804.7,1480.4 1806.6,1478.2 1808.5,1475.8 1810.3,1473.4 1812.0,1470.9 1813.6,1468.4 1815.2,1465.9 1816.7,1463.3 1818.1,1460.6 1819.5,1458.0 1820.9,1455.3 1822.2,1452.6 1823.4,1449.9 1824.7,1447.2 1825.9,1444.4 1827.0,1441.6 1828.1,1438.9 1829.2,1436.1 1830.2,1433.2 1831.2,1430.4 1832.2,1427.6 1833.1,1424.7 1833.9,1421.8 1834.8,1418.9 1835.6,1416.1 1836.4,1413.2 1837.2,1410.3 1838.0,1407.4 1838.7,1404.5 1839.5,1401.6 1840.2,1398.7 1841.0,1395.8 1841.8,1392.9 1842.6,1390.0 1843.3,1387.1 1844.1,1384.2 1844.9,1381.3 1845.8,1378.4 1846.6,1375.5 1847.4,1372.6 1848.2,1369.7 1849.0,1366.9 1849.8,1364.0 1850.7,1361.1 1851.5,1358.2 1852.3,1355.3 1853.1,1352.4 1853.9,1349.5 1854.7,1346.6 1855.5,1343.7 1856.3,1340.9 1857.1,1338.0 1857.9,1335.1 1858.7,1332.2 1859.5,1329.3 1860.3,1326.4 1861.1,1323.5 1861.9,1320.6 1862.7,1317.7 1863.5,1314.8 1864.3,1311.9 1865.1,1309.1 1865.9,1306.2 1866.7,1303.3 1867.5,1300.4 1868.3,1297.5 1869.1,1294.6 1869.9,1291.7 1870.6,1288.8 1871.4,1285.9 1872.2,1283.0 1873.0,1280.1 1873.7,1277.2 1874.5,1274.3 1875.2,1271.4 1876.0,1268.5 1876.7,1265.6 1877.4,1262.7 1878.2,1259.8 1878.9,1256.8 1879.6,1253.9 1880.3,1251.0 1881.1,1248.1 1881.8,1245.2 1882.5,1242.3 1883.2,1239.4 1883.9,1236.4 1884.6,1233.5 1885.3,1230.6 1885.9,1227.7 1886.6,1224.8 1887.3,1221.8 1888.0,1218.9 1888.7,1216.0 1889.3,1213.1 1890.0,1210.1 1890.6,1207.2 1891.3,1204.3 1892.0,1201.4 1892.6,1198.4 1893.3,1195.5 1893.9,1192.6 1894.5,1189.6 1895.2,1186.7 1895.8,1183.8 1896.4,1180.8 1897.1,1177.9 1897.7,1175.0 1898.3,1172.0 1898.9,1169.1 1899.5,1166.2 1900.1,1163.2 1900.8,1160.3 1901.4,1157.4 1902.0,1154.4 1902.6,1151.5 1903.2,1148.5 1903.7,1145.6 1904.3,1142.6 1904.9,1139.7 1905.5,1136.8 1906.1,1133.8 1906.7,1130.9 1907.2,1127.9 1907.8,1125.0 1908.4,1122.0 1909.0,1119.1 1909.5,1116.2 1910.1,1113.2 1910.7,1110.3 1911.2,1107.3 1911.8,1104.4 1912.3,1101.4 1912.9,1098.5 1913.4,1095.5 1914.0,1092.6 1914.5,1089.6 1915.1,1086.7 1915.6,1083.7 1916.2,1080.8 1916.7,1077.8 1917.3,1074.9 1917.8,1071.9 1918.3,1069.0 1918.9,1066.0 1919.4,1063.1 1919.9,1060.1 1920.5,1057.2 1921.0,1054.2 1921.5,1051.3 1922.0,1048.3 1922.6,1045.3 1923.1,1042.4 1923.6,1039.4 1924.1,1036.5 1924.7,1033.5 1925.2,1030.6 1925.7,1027.6 1926.2,1024.7 1926.7,1021.7 1927.3,1018.8 1927.8,1015.8 1928.3,1012.8 1928.8,1009.9 1929.3,1006.9 1929.8,1004.0 1930.3,1001.0 1930.9,998.1 1931.4,995.1 1931.9,992.1 1932.4,989.2 1932.9,986.2 1933.4,983.3 1933.9,980.3 1934.4,977.4 1934.9,974.4 1935.4,971.5 1936.0,968.5 1936.5,965.5 1937.0,962.6 1937.5,959.6 1938.0,956.7 1938.5,953.7 1939.0,950.8 1939.5,947.8 1940.0,944.8 1940.6,941.9 1941.1,938.9 1941.6,936.0 1942.1,933.0 1942.6,930.1 1943.1,927.1 1943.6,924.2 1944.2,921.2 1944.7,918.2 1945.2,915.3 1945.7,912.3 1946.2,909.4 1946.7,906.4 1947.3,903.5 1947.8,900.5 1948.3,897.6 1948.8,894.6 1949.4,891.7 1949.9,888.7 1950.4,885.8 1951.0,882.8 1951.5,879.8 1952.0,876.9 1952.6,873.9 1953.1,871.0 1953.6,868.0 1954.2,865.1 1954.7,862.1 1955.3,859.2 1955.8,856.2 1956.3,853.3 1956.9,850.3 1957.4,847.4 1958.0,844.4 1958.5,841.5 1959.1,838.5 1959.7,835.6 1960.2,832.6 1960.8,829.7 1961.4,826.8 1961.9,823.8 1962.5,820.9 1963.1,817.9 1963.6,815.0 1964.2,812.0 1964.8,809.1 1965.4,806.1 1966.0,803.2 1966.5,800.3 1967.1,797.3 1967.7,794.4 1968.3,791.4 1968.9,788.5 1969.5,785.6 1970.1,782.6 1970.7,779.7 1971.3,776.7 1972.0,773.8 1972.6,770.9 1973.2,767.9 1973.8,765.0 1974.4,762.1 1975.1,759.1 1975.7,756.2 1976.3,753.3 1977.0,750.3 1977.6,747.4 1978.3,744.5 1978.9,741.5 1979.6,738.6 1980.2,735.7 1980.9,732.8 1981.5,729.8 1982.2,726.9 1982.9,724.0 1983.6,721.1 1984.2,718.1 1984.9,715.2 1985.6,712.3 1986.3,709.4 1987.0,706.5 1987.7,703.5 1988.4,700.6 1989.1,697.7 1989.8,694.8 1990.5,691.9 1991.2,689.0 1992.0,686.1 1992.7,683.1 1993.4,680.2 1994.2,677.3 1994.9,674.4 1995.6,671.5 1996.4,668.6 1997.1,665.7 1997.9,662.8 1998.7,659.9 1999.4,657.0 2000.2,654.1 2001.0,651.2 2001.8,648.3 2002.5,645.4 2003.3,642.5 2004.1,639.6 2005.0,636.7 2005.8,633.9 2006.6,631.0 2007.4,628.1 2008.2,625.2 2009.0,622.3 2009.8,619.4 2010.6,616.5 2011.4,613.6 2012.1,610.7 2012.9,607.8 2013.6,604.9 2014.4,602.0 2015.1,599.1 2015.9,596.2 2016.7,593.3 2017.5,590.4 2018.4,587.5 2019.2,584.7 2020.2,581.8 2021.1,579.0 2022.1,576.1 2023.1,573.3 2024.1,570.5 2025.2,567.7 2026.3,564.9 2027.5,562.1 2028.6,559.4 2029.9,556.6 2031.1,553.9 2032.4,551.2 2033.6,548.5 2034.9,545.8 2036.2,543.0 2037.4,540.3 2038.7,537.6 2040.0,534.9 2041.4,532.2 2042.8,529.6 2044.4,527.0 2046.0,524.6 2047.8,522.1 2049.7,519.8 2051.7,517.6 2053.9,515.5 2056.2,513.7 2058.7,512.1 2061.3,510.7 2064.1,509.5 2066.9,508.6 2069.8,508.1 2072.7,508.1 2075.6,508.5 2078.5,509.2 2081.2,510.4 2083.8,511.8 2086.3,513.4 2088.6,515.3 2090.7,517.4 2092.7,519.6 2094.6,522.0 2096.4,524.4 2098.0,526.9 2099.5,529.5 2101.0,532.1 2102.3,534.8 2103.5,537.5 2104.8,540.3 2105.9,543.0 2107.1,545.8 2108.2,548.6 2109.3,551.4 2110.3,554.2 2111.3,557.0 2112.3,559.9 2113.2,562.7 2114.1,565.6 2115.0,568.4 2115.8,571.3 2116.6,574.2 2117.4,577.1 2118.2,580.0 2119.0,582.9 2119.8,585.8 2120.5,588.7 2121.3,591.6 2122.1,594.5 2122.8,597.4 2123.6,600.3 2124.4,603.2 2125.1,606.1 2125.8,609.0 2126.6,611.9 2127.3,614.8 2128.0,617.7 2128.7,620.7 2129.4,623.6 2130.1,626.5 2130.8,629.4 2131.4,632.4 2132.1,635.3 2132.7,638.2 2133.3,641.2 2133.9,644.1 2134.6,647.0 2135.2,650.0 2135.8,652.9 2136.4,655.8 2137.0,658.8 2137.6,661.7 2138.2,664.6 2138.8,667.6 2139.4,670.5 2140.0,673.5 2140.6,676.4 2141.2,679.3 2141.8,682.3 2142.4,685.2 2143.0,688.2 2143.6,691.1 2144.1,694.1 2144.7,697.0 2145.3,700.0 2145.8,702.9 2146.4,705.8 2147.0,708.8 2147.5,711.7 2148.1,714.7 2148.6,717.6 2149.2,720.6 2149.7,723.5 2150.3,726.5 2150.8,729.4 2151.3,732.4 2151.9,735.3 2152.4,738.3 2152.9,741.3 2153.4,744.2 2154.0,747.2 2154.5,750.1 2155.0,753.1 2155.5,756.0 2156.0,759.0 2156.5,761.9 2157.0,764.9 2157.5,767.9 2158.0,770.8 2158.5,773.8 2159.0,776.7 2159.5,779.7 2160.0,782.6 2160.5,785.6 2161.0,788.6 2161.5,791.5 2162.0,794.5 2162.4,797.5 2162.9,800.4 2163.4,803.4 2163.9,806.3 2164.3,809.3 2164.8,812.3 2165.2,815.2 2165.7,818.2 2166.2,821.2 2166.6,824.1 2167.1,827.1 2167.5,830.1 2168.0,833.0 2168.4,836.0 2168.9,839.0 2169.3,841.9 2169.7,844.9 2170.2,847.9 2170.6,850.8 2171.0,853.8 2171.5,856.8 2171.9,859.7 2172.3,862.7 2172.7,865.7 2173.2,868.6 2173.6,871.6 2174.0,874.6 2174.4,877.6 2174.8,880.5 2175.2,883.5 2175.7,886.5 2176.1,889.4 2176.5,892.4 2176.9,895.4 2177.3,898.4 2177.7,901.3 2178.1,904.3 2178.5,907.3 2178.9,910.3 2179.2,913.2 2179.6,916.2 2180.0,919.2 2180.4,922.2 2180.8,925.1 2181.2,928.1 2181.6,931.1 2181.9,934.1 2182.3,937.0 2182.7,940.0 2183.1,943.0 2183.4,946.0 2183.8,948.9 2184.2,951.9 2184.5,954.9 2184.9,957.9 2185.3,960.9 2185.6,963.8 2186.0,966.8 2186.3,969.8 2186.7,972.8 2187.1,975.8 2187.4,978.7 2187.8,981.7 2188.1,984.7 2188.5,987.7 2188.8,990.6 2189.2,993.6 2189.5,996.6 2189.9,999.6 2190.2,1002.6 2190.5,1005.5 2190.9,1008.5 2191.2,1011.5 2191.6,1014.5 2191.9,1017.5 2192.2,1020.5 2192.6,1023.4 2192.9,1026.4 2193.2,1029.4 2193.6,1032.4 2193.9,1035.4 2194.2,1038.3 2194.5,1041.3 2194.9,1044.3 2195.2,1047.3 2195.5,1050.3 2195.8,1053.3 2196.2,1056.2 2196.5,1059.2 2196.8,1062.2 2197.1,1065.2 2197.5,1068.2 2197.8,1071.2 2198.1,1074.1 2198.4,1077.1 2198.7,1080.1 2199.0,1083.1 2199.3,1086.1 2199.7,1089.1 2200.0,1092.0 2200.3,1095.0 2200.6,1098.0 2200.9,1101.0 2201.2,1104.0 2201.5,1107.0 2201.8,1109.9 2202.1,1112.9 2202.4,1115.9 2202.7,1118.9 2203.0,1121.9 2203.3,1124.9 2203.6,1127.9 2203.9,1130.8 2204.3,1133.8 2204.6,1136.8 2204.9,1139.8 2205.2,1142.8 2205.5,1145.8 2205.8,1148.7 2206.1,1151.7 2206.4,1154.7 2206.6,1157.7 2206.9,1160.7 2207.2,1163.7 2207.5,1166.7 2207.8,1169.6 2208.1,1172.6 2208.4,1175.6 2208.7,1178.6 2209.0,1181.6 2209.3,1184.6 2209.6,1187.6 2209.9,1190.5 2210.2,1193.5 2210.5,1196.5 2210.8,1199.5 2211.1,1202.5 2211.4,1205.5 2211.7,1208.5 2212.0,1211.4 2212.3,1214.4 2212.6,1217.4 2212.9,1220.4 2213.1,1223.4 2213.4,1226.4 2213.7,1229.4 2214.0,1232.3 2214.3,1235.3 2214.6,1238.3 2214.9,1241.3 2215.2,1244.3 2215.5,1247.3 2215.8,1250.3 2216.1,1253.2 2216.4,1256.2 2216.7,1259.2 2217.0,1262.2 2217.3,1265.2 2217.6,1268.2 2217.9,1271.1 2218.2,1274.1 2218.5,1277.1 2218.8,1280.1 2219.1,1283.1 2219.4,1286.1 2219.8,1289.0 2220.1,1292.0 2220.3,1295.0 2220.6,1298.0 2220.7,1301.0 2220.9,1304.0 2220.9,1307.0 2221.0,1310.0 2221.0,1313.0 2221.0,1314.0" fill="none" stroke="#6617BE" stroke-width="8.0" stroke-linejoin="round" stroke-linecap="round"/>
<path d="M326.0,1602.0 329.0,1601.9 332.0,1601.9 335.0,1601.8 338.0,1601.8 341.0,1601.7 344.0,1601.6 347.0,1601.6 350.0,1601.5 353.0,1601.5 356.0,1601.4 359.0,1601.3 362.0,1601.3 365.0,1601.2 368.0,1601.1 371.0,1601.1 374.0,1601.0 377.0,1601.0 380.0,1600.9 383.0,1600.8 386.0,1600.8 389.0,1600.7 392.0,1600.7 395.0,1600.6 398.0,1600.5 401.0,1600.5 404.0,1600.4 407.0,1600.4 410.0,1600.3 413.0,1600.2 416.0,1600.2 419.0,1600.1 422.0,1600.1 425.0,1600.0 428.0,1599.9 431.0,1599.9 434.0,1599.8 437.0,1599.8 440.0,1599.7 443.0,1599.6 446.0,1599.6 449.0,1599.5 452.0,1599.5 455.0,1599.4 458.0,1599.4 461.0,1599.3 464.0,1599.2 467.0,1599.2 470.0,1599.1 473.0,1599.1 476.0,1599.0 479.0,1598.9 482.0,1598.9 485.0,1598.8 488.0,1598.7 491.0,1598.7 494.0,1598.6 497.0,1598.6 500.0,1598.5 503.0,1598.4 506.0,1598.4 509.0,1598.3 512.0,1598.2 515.0,1598.2 518.0,1598.1 521.0,1598.1 524.0,1598.0 527.0,1597.9 530.0,1597.9 533.0,1597.8 536.0,1597.7 539.0,1597.7 542.0,1597.6 545.0,1597.5 548.0,1597.5 551.0,1597.4 554.0,1597.3 557.0,1597.3 560.0,1597.2 563.0,1597.1 566.0,1597.1 569.0,1597.0 572.0,1596.9 575.0,1596.9 578.0,1596.8 581.0,1596.7 584.0,1596.7 587.0,1596.6 590.0,1596.5 593.0,1596.5 596.0,1596.4 599.0,1596.3 602.0,1596.3 605.0,1596.2 608.0,1596.1 611.0,1596.0 614.0,1596.0 617.0,1595.9 620.0,1595.8 623.0,1595.7 626.0,1595.7 629.0,1595.6 632.0,1595.5 635.0,1595.5 638.0,1595.4 641.0,1595.3 644.0,1595.2 647.0,1595.2 650.0,1595.1 653.0,1595.0 656.0,1594.9 659.0,1594.8 662.0,1594.8 665.0,1594.7 668.0,1594.6 671.0,1594.5 674.0,1594.5 677.0,1594.4 680.0,1594.3 683.0,1594.2 686.0,1594.2 689.0,1594.1 692.0,1594.0 695.0,1593.9 698.0,1593.9 701.0,1593.8 704.0,1593.7 707.0,1593.6 710.0,1593.5 713.0,1593.5 716.0,1593.4 719.0,1593.3 722.0,1593.2 725.0,1593.2 728.0,1593.1 731.0,1593.0 734.0,1592.9 737.0,1592.8 740.0,1592.8 743.0,1592.7 746.0,1592.6 749.0,1592.5 752.0,1592.5 755.0,1592.4 758.0,1592.3 761.0,1592.2 764.0,1592.1 767.0,1592.1 770.0,1592.0 773.0,1591.9 776.0,1591.8 779.0,1591.7 782.0,1591.7 785.0,1591.6 788.0,1591.5 791.0,1591.4 794.0,1591.4 797.0,1591.3 800.0,1591.2 803.0,1591.1 806.0,1591.0 809.0,1591.0 812.0,1590.9 815.0,1590.8 818.0,1590.7 821.0,1590.7 824.0,1590.6 827.0,1590.5 830.0,1590.4 833.0,1590.3 836.0,1590.3 839.0,1590.2 842.0,1590.1 845.0,1590.0 848.0,1590.0 851.0,1589.9 854.0,1589.8 857.0,1589.7 860.0,1589.6 863.0,1589.6 866.0,1589.5 869.0,1589.4 872.0,1589.3 875.0,1589.3 877.9,1589.2 880.9,1589.1 883.9,1589.0 886.9,1588.9 889.9,1588.9 892.9,1588.8 895.9,1588.7 898.9,1588.6 901.9,1588.5 904.9,1588.5 907.9,1588.4 910.9,1588.3 913.9,1588.2 916.9,1588.2 919.9,1588.1 922.9,1588.0 925.9,1587.9 928.9,1587.9 931.9,1587.8 934.9,1587.7 937.9,1587.6 940.9,1587.5 943.9,1587.5 946.9,1587.4 949.9,1587.3 952.9,1587.2 955.9,1587.2 958.9,1587.1 961.9,1587.0 964.9,1586.9 967.9,1586.8 970.9,1586.8 973.9,1586.7 976.9,1586.6 979.9,1586.5 982.9,1586.4 985.9,1586.4 988.9,1586.3 991.9,1586.2 994.9,1586.1 997.9,1586.1 1000.9,1586.0 1003.9,1585.9 1006.9,1585.8 1009.9,1585.7 1012.9,1585.7 1015.9,1585.6 1018.9,1585.5 1021.9,1585.4 1024.9,1585.3 1027.9,1585.3 1030.9,1585.2 1033.9,1585.1 1036.9,1585.0 1039.9,1584.9 1042.9,1584.9 1045.9,1584.8 1048.9,1584.7 1051.9,1584.6 1054.9,1584.5 1057.9,1584.5 1060.9,1584.4 1063.9,1584.3 1066.9,1584.2 1069.9,1584.1 1072.9,1584.1 1075.9,1584.0 1078.9,1583.9 1081.9,1583.8 1084.9,1583.7 1087.9,1583.6 1090.9,1583.6 1093.9,1583.5 1096.9,1583.4 1099.9,1583.3 1102.9,1583.2 1105.9,1583.1 1108.9,1583.0 1111.9,1583.0 1114.9,1582.9 1117.9,1582.8 1120.9,1582.7 1123.9,1582.6 1126.9,1582.5 1129.9,1582.4 1132.9,1582.3 1135.9,1582.2 1138.9,1582.2 1141.9,1582.1 1144.9,1582.0 1147.9,1581.9 1150.9,1581.8 1153.9,1581.7 1156.9,1581.6 1159.9,1581.5 1162.9,1581.4 1165.9,1581.3 1168.9,1581.2 1171.9,1581.1 1174.9,1581.0 1177.9,1580.9 1180.9,1580.8 1183.9,1580.7 1186.9,1580.6 1189.9,1580.5 1192.9,1580.4 1195.9,1580.3 1198.9,1580.2 1201.9,1580.1 1204.9,1580.0 1207.9,1579.9 1210.9,1579.8 1213.9,1579.7 1216.9,1579.6 1219.9,1579.5 1222.9,1579.4 1225.9,1579.3 1228.9,1579.2 1231.9,1579.1 1234.9,1579.0 1237.9,1578.8 1240.9,1578.7 1243.9,1578.6 1246.9,1578.5 1249.9,1578.4 1252.9,1578.3 1255.9,1578.2 1258.9,1578.0 1261.9,1577.9 1264.9,1577.8 1267.8,1577.7 1270.8,1577.6 1273.8,1577.5 1276.8,1577.4 1279.8,1577.3 1282.8,1577.1 1285.8,1577.0 1288.8,1576.9 1291.8,1576.8 1294.8,1576.7 1297.8,1576.6 1300.8,1576.5 1303.8,1576.4 1306.8,1576.2 1309.8,1576.1 1312.8,1576.0 1315.8,1575.9 1318.8,1575.8 1321.8,1575.7 1324.8,1575.5 1327.8,1575.4 1330.8,1575.3 1333.8,1575.2 1336.8,1575.1 1339.8,1574.9 1342.8,1574.8 1345.8,1574.7 1348.8,1574.6 1351.8,1574.5 1354.8,1574.4 1357.8,1574.3 1360.8,1574.2 1363.8,1574.1 1366.8,1574.0 1369.8,1573.9 1372.8,1573.8 1375.8,1573.7 1378.8,1573.6 1381.8,1573.6 1384.8,1573.5 1387.8,1573.4 1390.8,1573.4 1393.8,1573.3 1396.8,1573.2 1399.8,1573.2 1402.8,1573.1 1405.8,1573.1 1408.8,1573.0 1411.8,1573.0 1414.8,1573.0 1417.8,1572.9 1420.8,1572.9 1423.8,1572.8 1426.8,1572.8 1429.8,1572.8 1432.8,1572.8 1435.8,1572.8 1438.8,1572.7 1441.8,1572.7 1444.8,1572.7 1447.8,1572.7 1450.8,1572.7 1453.8,1572.7 1456.8,1572.7 1459.8,1572.7 1462.8,1572.7 1465.8,1572.7 1468.8,1572.8 1471.8,1572.8 1474.8,1572.8 1477.8,1572.8 1480.8,1572.9 1483.8,1572.9 1486.8,1573.0 1489.8,1573.1 1492.8,1573.2 1495.8,1573.3 1498.8,1573.4 1501.8,1573.5 1504.8,1573.6 1507.8,1573.8 1510.8,1573.9 1513.8,1574.1 1516.8,1574.3 1519.8,1574.6 1522.8,1574.8 1525.7,1575.1 1528.7,1575.4 1531.7,1575.7 1534.7,1576.0 1537.7,1576.4 1540.7,1576.8 1543.6,1577.2 1546.6,1577.6 1549.6,1578.1 1552.5,1578.6 1555.5,1579.1 1558.4,1579.7 1561.3,1580.4 1564.2,1581.1 1567.1,1581.8 1570.0,1582.7 1572.9,1583.5 1575.8,1584.4 1578.6,1585.3 1581.5,1586.2 1584.3,1587.1 1587.2,1588.1 1590.0,1589.0 1592.9,1590.0 1595.7,1591.0 1598.6,1592.0 1601.4,1593.0 1604.2,1594.0 1607.0,1595.0 1609.9,1595.9 1612.7,1596.9 1615.6,1597.8 1618.4,1598.8 1621.3,1599.7 1624.1,1600.6 1627.0,1601.5 L1627.0,1601.5 1629.6,1600.1 1632.3,1598.7 1634.9,1597.3 1637.6,1595.9 1640.2,1594.4 1642.8,1592.9 1645.4,1591.4 1648.0,1589.8 1650.5,1588.2 1653.0,1586.6 1655.5,1584.9 1658.0,1583.2 1660.4,1581.4 1662.7,1579.5 1664.9,1577.5 1667.2,1575.5 1669.3,1573.4 1671.4,1571.3 1673.5,1569.2 1675.6,1567.0 1677.6,1564.7 1679.6,1562.5 1681.5,1560.2 1683.4,1557.9 1685.3,1555.6 1687.1,1553.2 1688.9,1550.8 1690.7,1548.4 1692.4,1545.9 1694.0,1543.4 1695.7,1540.9 1697.2,1538.3 1698.8,1535.7 1700.3,1533.1 1701.8,1530.5 1703.2,1527.9 1704.6,1525.2 1705.9,1522.6 1707.2,1519.9 1708.5,1517.1 1709.7,1514.4 1710.9,1511.7 1712.2,1508.9 1713.4,1506.2 1714.6,1503.5 1715.9,1500.7 1717.2,1498.0 1718.5,1495.3 1719.7,1492.6 1721.0,1489.9 1722.3,1487.2 1723.6,1484.5 1724.9,1481.7 1726.1,1479.0 1727.4,1476.3 1728.7,1473.6 1729.9,1470.9 1731.2,1468.1 1732.4,1465.4 1733.6,1462.6 1734.8,1459.9 1736.0,1457.2 1737.2,1454.4 1738.4,1451.7 1739.7,1448.9 1740.9,1446.2 1742.1,1443.4 1743.3,1440.7 1744.6,1438.0 1745.8,1435.2 1747.1,1432.5 1748.4,1429.8 1749.6,1427.1 1750.9,1424.4 1752.1,1421.6 1753.3,1418.9 1754.4,1416.1 1755.5,1413.3 1756.6,1410.5 1757.7,1407.7 1758.8,1404.9 1759.9,1402.1 1760.9,1399.3 1762.0,1396.5 1763.0,1393.7 1764.1,1390.9 1765.1,1388.1 1766.2,1385.3 1767.2,1382.4 1768.2,1379.6 1769.2,1376.8 1770.2,1374.0 1771.2,1371.1 1772.2,1368.3 1773.2,1365.5 1774.1,1362.6 1775.1,1359.8 1776.1,1356.9 1777.0,1354.1 1778.0,1351.2 1778.9,1348.4 1779.8,1345.5 1780.8,1342.7 1781.7,1339.8 1782.6,1337.0 1783.5,1334.1 1784.4,1331.3 1785.3,1328.4 1786.2,1325.5 1787.1,1322.7 1788.0,1319.8 1788.8,1316.9 1789.7,1314.1 1790.6,1311.2 1791.4,1308.3 1792.3,1305.4 1793.1,1302.6 1794.0,1299.7 1794.8,1296.8 1795.6,1293.9 1796.5,1291.0 1797.3,1288.1 1798.1,1285.3 1798.9,1282.4 1799.7,1279.5 1800.5,1276.6 1801.3,1273.7 1802.1,1270.8 1802.9,1267.9 1803.7,1265.0 1804.5,1262.1 1805.3,1259.2 1806.0,1256.3 1806.8,1253.4 1807.6,1250.5 1808.3,1247.6 1809.1,1244.7 1809.9,1241.8 1810.6,1238.9 1811.4,1236.0 1812.1,1233.1 1812.8,1230.2 1813.6,1227.3 1814.3,1224.4 1815.0,1221.5 1815.8,1218.6 1816.5,1215.6 1817.2,1212.7 1817.9,1209.8 1818.7,1206.9 1819.4,1204.0 1820.1,1201.1 1820.8,1198.2 1821.5,1195.2 1822.2,1192.3 1822.9,1189.4 1823.6,1186.5 1824.3,1183.6 1825.0,1180.7 1825.7,1177.7 1826.4,1174.8 1827.0,1171.9 1827.7,1169.0 1828.4,1166.1 1829.1,1163.1 1829.8,1160.2 1830.4,1157.3 1831.1,1154.4 1831.8,1151.4 1832.5,1148.5 1833.1,1145.6 1833.8,1142.7 1834.4,1139.7 1835.1,1136.8 1835.8,1133.9 1836.4,1131.0 1837.1,1128.0 1837.7,1125.1 1838.4,1122.2 1839.0,1119.2 1839.7,1116.3 1840.3,1113.4 1841.0,1110.5 1841.6,1107.5 1842.3,1104.6 1842.9,1101.7 1843.6,1098.7 1844.2,1095.8 1844.8,1092.9 1845.5,1089.9 1846.1,1087.0 1846.8,1084.1 1847.4,1081.1 1848.0,1078.2 1848.6,1075.3 1849.3,1072.3 1849.9,1069.4 1850.5,1066.5 1851.2,1063.5 1851.8,1060.6 1852.4,1057.7 1853.0,1054.7 1853.7,1051.8 1854.3,1048.9 1854.9,1045.9 1855.5,1043.0 1856.2,1040.1 1856.8,1037.1 1857.4,1034.2 1858.0,1031.3 1858.6,1028.3 1859.3,1025.4 1859.9,1022.5 1860.5,1019.5 1861.1,1016.6 1861.7,1013.7 1862.3,1010.7 1862.9,1007.8 1863.6,1004.8 1864.2,1001.9 1864.8,999.0 1865.4,996.0 1866.0,993.1 1866.6,990.2 1867.2,987.2 1867.8,984.3 1868.4,981.3 1869.1,978.4 1869.7,975.5 1870.3,972.5 1870.9,969.6 1871.5,966.7 1872.1,963.7 1872.7,960.8 1873.3,957.8 1873.9,954.9 1874.5,952.0 1875.1,949.0 1875.7,946.1 1876.3,943.2 1876.9,940.2 1877.6,937.3 1878.2,934.3 1878.8,931.4 1879.4,928.5 1880.0,925.5 1880.6,922.6 1881.2,919.6 1881.8,916.7 1882.4,913.8 1883.0,910.8 1883.6,907.9 1884.2,905.0 1884.8,902.0 1885.4,899.1 1886.0,896.1 1886.6,893.2 1887.2,890.3 1887.8,887.3 1888.4,884.4 1889.0,881.4 1889.6,878.5 1890.3,875.6 1890.9,872.6 1891.5,869.7 1892.1,866.8 1892.7,863.8 1893.3,860.9 1893.9,857.9 1894.5,855.0 1895.1,852.1 1895.7,849.1 1896.3,846.2 1896.9,843.2 1897.5,840.3 1898.1,837.4 1898.7,834.4 1899.4,831.5 1900.0,828.6 1900.6,825.6 1901.2,822.7 1901.8,819.7 1902.4,816.8 1903.0,813.9 1903.6,810.9 1904.2,808.0 1904.9,805.1 1905.5,802.1 1906.1,799.2 1906.7,796.3 1907.3,793.3 1907.9,790.4 1908.6,787.4 1909.2,784.5 1909.8,781.6 1910.4,778.6 1911.0,775.7 1911.7,772.8 1912.3,769.8 1912.9,766.9 1913.5,764.0 1914.2,761.0 1914.8,758.1 1915.4,755.2 1916.0,752.2 1916.7,749.3 1917.3,746.4 1917.9,743.4 1918.6,740.5 1919.2,737.6 1919.8,734.6 1920.5,731.7 1921.1,728.8 1921.7,725.8 1922.4,722.9 1923.0,720.0 1923.7,717.0 1924.3,714.1 1925.0,711.2 1925.6,708.3 1926.3,705.3 1926.9,702.4 1927.6,699.5 1928.2,696.5 1928.9,693.6 1929.5,690.7 1930.2,687.8 1930.9,684.8 1931.5,681.9 1932.2,679.0 1932.9,676.1 1933.5,673.1 1934.2,670.2 1934.9,667.3 1935.6,664.4 1936.2,661.4 1936.9,658.5 1937.6,655.6 1938.3,652.7 1939.0,649.8 1939.7,646.8 1940.4,643.9 1941.1,641.0 1941.8,638.1 1942.5,635.2 1943.2,632.3 1943.9,629.3 1944.6,626.4 1945.3,623.5 1946.0,620.6 1946.7,617.7 1947.5,614.8 1948.2,611.9 1948.9,609.0 1949.7,606.1 1950.4,603.1 1951.1,600.2 1951.9,597.3 1952.6,594.4 1953.4,591.5 1954.1,588.6 1954.9,585.7 1955.7,582.8 1956.4,579.9 1957.2,577.0 1958.0,574.1 1958.8,571.2 1959.5,568.3 1960.3,565.4 1961.1,562.5 1961.9,559.6 1962.7,556.8 1963.5,553.9 1964.4,551.0 1965.2,548.1 1966.0,545.2 1966.8,542.3 1967.7,539.4 1968.5,536.6 1969.3,533.7 1970.2,530.8 1971.0,527.9 1971.9,525.1 1972.8,522.2 1973.6,519.3 1974.5,516.4 1975.4,513.6 1976.3,510.7 1977.2,507.8 1978.1,505.0 1979.0,502.1 1979.9,499.3 1980.8,496.4 1981.8,493.6 1982.7,490.7 1983.6,487.9 1984.6,485.0 1985.6,482.2 1986.5,479.3 1987.5,476.5 1988.5,473.7 1989.5,470.8 1990.5,468.0 1991.5,465.2 1992.4,462.3 1993.4,459.5 1994.3,456.6 1995.2,453.8 1996.1,450.9 1997.0,448.1 1997.9,445.2 1998.9,442.4 1999.9,439.5 2001.0,436.7 2002.1,433.9 2003.2,431.2 2004.3,428.4 2005.5,425.6 2006.7,422.9 2007.9,420.1 2009.1,417.4 2010.3,414.6 2011.5,411.9 2012.8,409.1 2014.0,406.4 2015.3,403.7 2016.6,401.0 2018.1,398.4 2019.6,395.8 2021.2,393.3 2022.9,390.8 2024.8,388.5 2026.7,386.2 2028.7,384.0 2030.8,381.8 2033.0,379.7 2035.2,377.8 2037.5,375.9 2039.9,374.1 2042.5,372.6 2045.1,371.2 2047.9,370.0 2050.7,369.0 2053.5,368.1 2056.5,367.4 2059.4,366.8 2062.4,366.4 2065.3,366.2 2068.3,366.1 2071.3,366.3 2074.2,366.8 2077.0,367.7 2079.6,369.0 2082.1,370.6 2084.3,372.6 2086.4,374.7 2088.4,376.9 2090.3,379.2 2092.2,381.6 2093.9,384.0 2095.6,386.5 2097.2,389.0 2098.7,391.6 2100.1,394.3 2101.5,396.9 2102.9,399.6 2104.3,402.2 2105.7,404.9 2107.1,407.6 2108.4,410.3 2109.7,413.0 2111.0,415.7 2112.3,418.4 2113.6,421.1 2114.9,423.8 2116.2,426.5 2117.5,429.2 2118.8,431.9 2120.0,434.6 2121.2,437.4 2122.4,440.1 2123.5,442.9 2124.6,445.7 2125.6,448.5 2126.6,451.4 2127.6,454.2 2128.5,457.1 2129.5,459.9 2130.4,462.7 2131.4,465.6 2132.4,468.4 2133.3,471.3 2134.3,474.1 2135.2,477.0 2136.2,479.8 2137.1,482.7 2138.0,485.5 2138.9,488.4 2139.8,491.2 2140.8,494.1 2141.7,496.9 2142.6,499.8 2143.4,502.7 2144.3,505.5 2145.2,508.4 2146.1,511.3 2146.9,514.2 2147.8,517.0 2148.6,519.9 2149.5,522.8 2150.3,525.7 2151.2,528.6 2152.0,531.4 2152.8,534.3 2153.6,537.2 2154.4,540.1 2155.2,543.0 2156.0,545.9 2156.8,548.8 2157.6,551.7 2158.4,554.6 2159.2,557.5 2160.0,560.4 2160.7,563.3 2161.5,566.2 2162.3,569.1 2163.0,572.0 2163.8,574.9 2164.5,577.8 2165.2,580.7 2166.0,583.6 2166.7,586.5 2167.4,589.4 2168.1,592.3 2168.9,595.2 2169.6,598.2 2170.3,601.1 2171.0,604.0 2171.7,606.9 2172.3,609.8 2173.0,612.7 2173.7,615.7 2174.4,618.6 2175.1,621.5 2175.7,624.4 2176.4,627.4 2177.1,630.3 2177.7,633.2 2178.4,636.1 2179.0,639.1 2179.7,642.0 2180.3,644.9 2180.9,647.9 2181.6,650.8 2182.2,653.7 2182.8,656.7 2183.4,659.6 2184.1,662.5 2184.7,665.5 2185.3,668.4 2185.9,671.4 2186.5,674.3 2187.1,677.2 2187.7,680.2 2188.3,683.1 2188.9,686.0 2189.5,689.0 2190.1,691.9 2190.7,694.9 2191.2,697.8 2191.8,700.8 2192.4,703.7 2193.0,706.7 2193.5,709.6 2194.1,712.5 2194.7,715.5 2195.2,718.4 2195.8,721.4 2196.4,724.3 2196.9,727.3 2197.5,730.2 2198.0,733.2 2198.6,736.1 2199.1,739.1 2199.7,742.0 2200.2,745.0 2200.8,747.9 2201.3,750.9 2201.8,753.8 2202.4,756.8 2202.9,759.7 2203.5,762.7 2204.0,765.6 2204.5,768.6 2205.1,771.5 2205.6,774.5 2206.1,777.4 2206.6,780.4 2207.2,783.3 2207.7,786.3 2208.2,789.3 2208.7,792.2 2209.3,795.2 2209.8,798.1 2210.3,801.1 2210.8,804.0 2211.4,807.0 2211.9,809.9 2212.4,812.9 2212.9,815.8 2213.4,818.8 2214.0,821.8 2214.5,824.7 2215.0,827.7 2215.5,830.6 2216.0,833.6 2216.6,836.5 2217.1,839.5 2217.6,842.4 2218.2,845.4 2218.8,848.3 2219.4,851.3 2220.0,854.2 2220.5,857.2 2220.9,860.1 2221.2,863.1 2221.1,866.0 2221.0,868.0" fill="none" stroke="#D28A3E" stroke-width="7.5" stroke-linejoin="round" stroke-linecap="round"/>
</g>
<g id="ylabels" class="tk">
<text transform="translate(291.5,1627.9) scale(0.975,1)" text-anchor="end">0. 000</text>
<text transform="translate(291.5,1373.2) scale(0.975,1)" text-anchor="end">0. 001</text>
<text transform="translate(291.5,1119.3) scale(0.975,1)" text-anchor="end">0. 002</text>
<text transform="translate(291.5,865.4) scale(0.975,1)" text-anchor="end">0. 003</text>
<text transform="translate(291.5,611.5) scale(0.975,1)" text-anchor="end">0. 004</text>
<text transform="translate(291.5,357.6) scale(0.975,1)" text-anchor="end">0. 005</text>
<text transform="translate(291.5,102.0) scale(0.975,1)" text-anchor="end">0. 006</text>
</g>
<g id="xlabels" class="tk">
<text transform="translate(326.0,1691.5) scale(1.000,1)" text-anchor="middle" class="xt">0</text>
<text transform="translate(705.2,1691.5) scale(0.940,1)" text-anchor="middle" class="xt">5</text>
<text transform="translate(1084.4,1691.5) scale(0.940,1)" text-anchor="middle" class="xt">10</text>
<text transform="translate(1463.6,1691.5) scale(0.940,1)" text-anchor="middle" class="xt">15</text>
<text transform="translate(1842.8,1691.5) scale(0.940,1)" text-anchor="middle" class="xt">20</text>
<text transform="translate(2222.0,1691.5) scale(0.940,1)" text-anchor="middle" class="xt">25</text>
</g>
<g id="legend">
<line x1="393.5" y1="184.7" x2="578" y2="184.7" stroke="#D3863E" stroke-width="6.5" stroke-linecap="butt"/>
<text x="615" y="211.4" class="lg">1000W/m<tspan class="sup" dy="-34">2</tspan></text>
<line x1="393.5" y1="292.1" x2="578" y2="292.1" stroke="#6C18BE" stroke-width="8.0" stroke-linecap="butt"/>
<text x="615" y="318.6" class="lg">800W/m<tspan class="sup" dy="-34">2</tspan></text>
<line x1="393.5" y1="401.0" x2="578" y2="401.0" stroke="#787830" stroke-width="7.0" stroke-linecap="butt"/>
<text x="615" y="427.0" class="lg">600W/m<tspan class="sup" dy="-34">2</tspan></text>
<line x1="393.5" y1="509.0" x2="578" y2="509.0" stroke="#206A2E" stroke-width="6.5" stroke-linecap="butt"/>
<text x="615" y="535.0" class="lg">400W/m<tspan class="sup" dy="-34">2</tspan></text>
<line x1="393.5" y1="618.0" x2="578" y2="618.0" stroke="#A8202C" stroke-width="6.5" stroke-linecap="butt"/>
<text x="615" y="644.0" class="lg">200W/m<tspan class="sup" dy="-34">2</tspan></text>
</g>
<text class="ax" y="1800"><tspan x="1189" font-style="italic">V</tspan><tspan x="1251.8">(</tspan><tspan x="1279.6">V</tspan><tspan x="1337.4">)</tspan></text>
<text class="ay" transform="translate(99.3,1141.5) rotate(-90)"><tspan font-style="italic">Absolute error</tspan> (A)</text>
</svg>
</body></html>
